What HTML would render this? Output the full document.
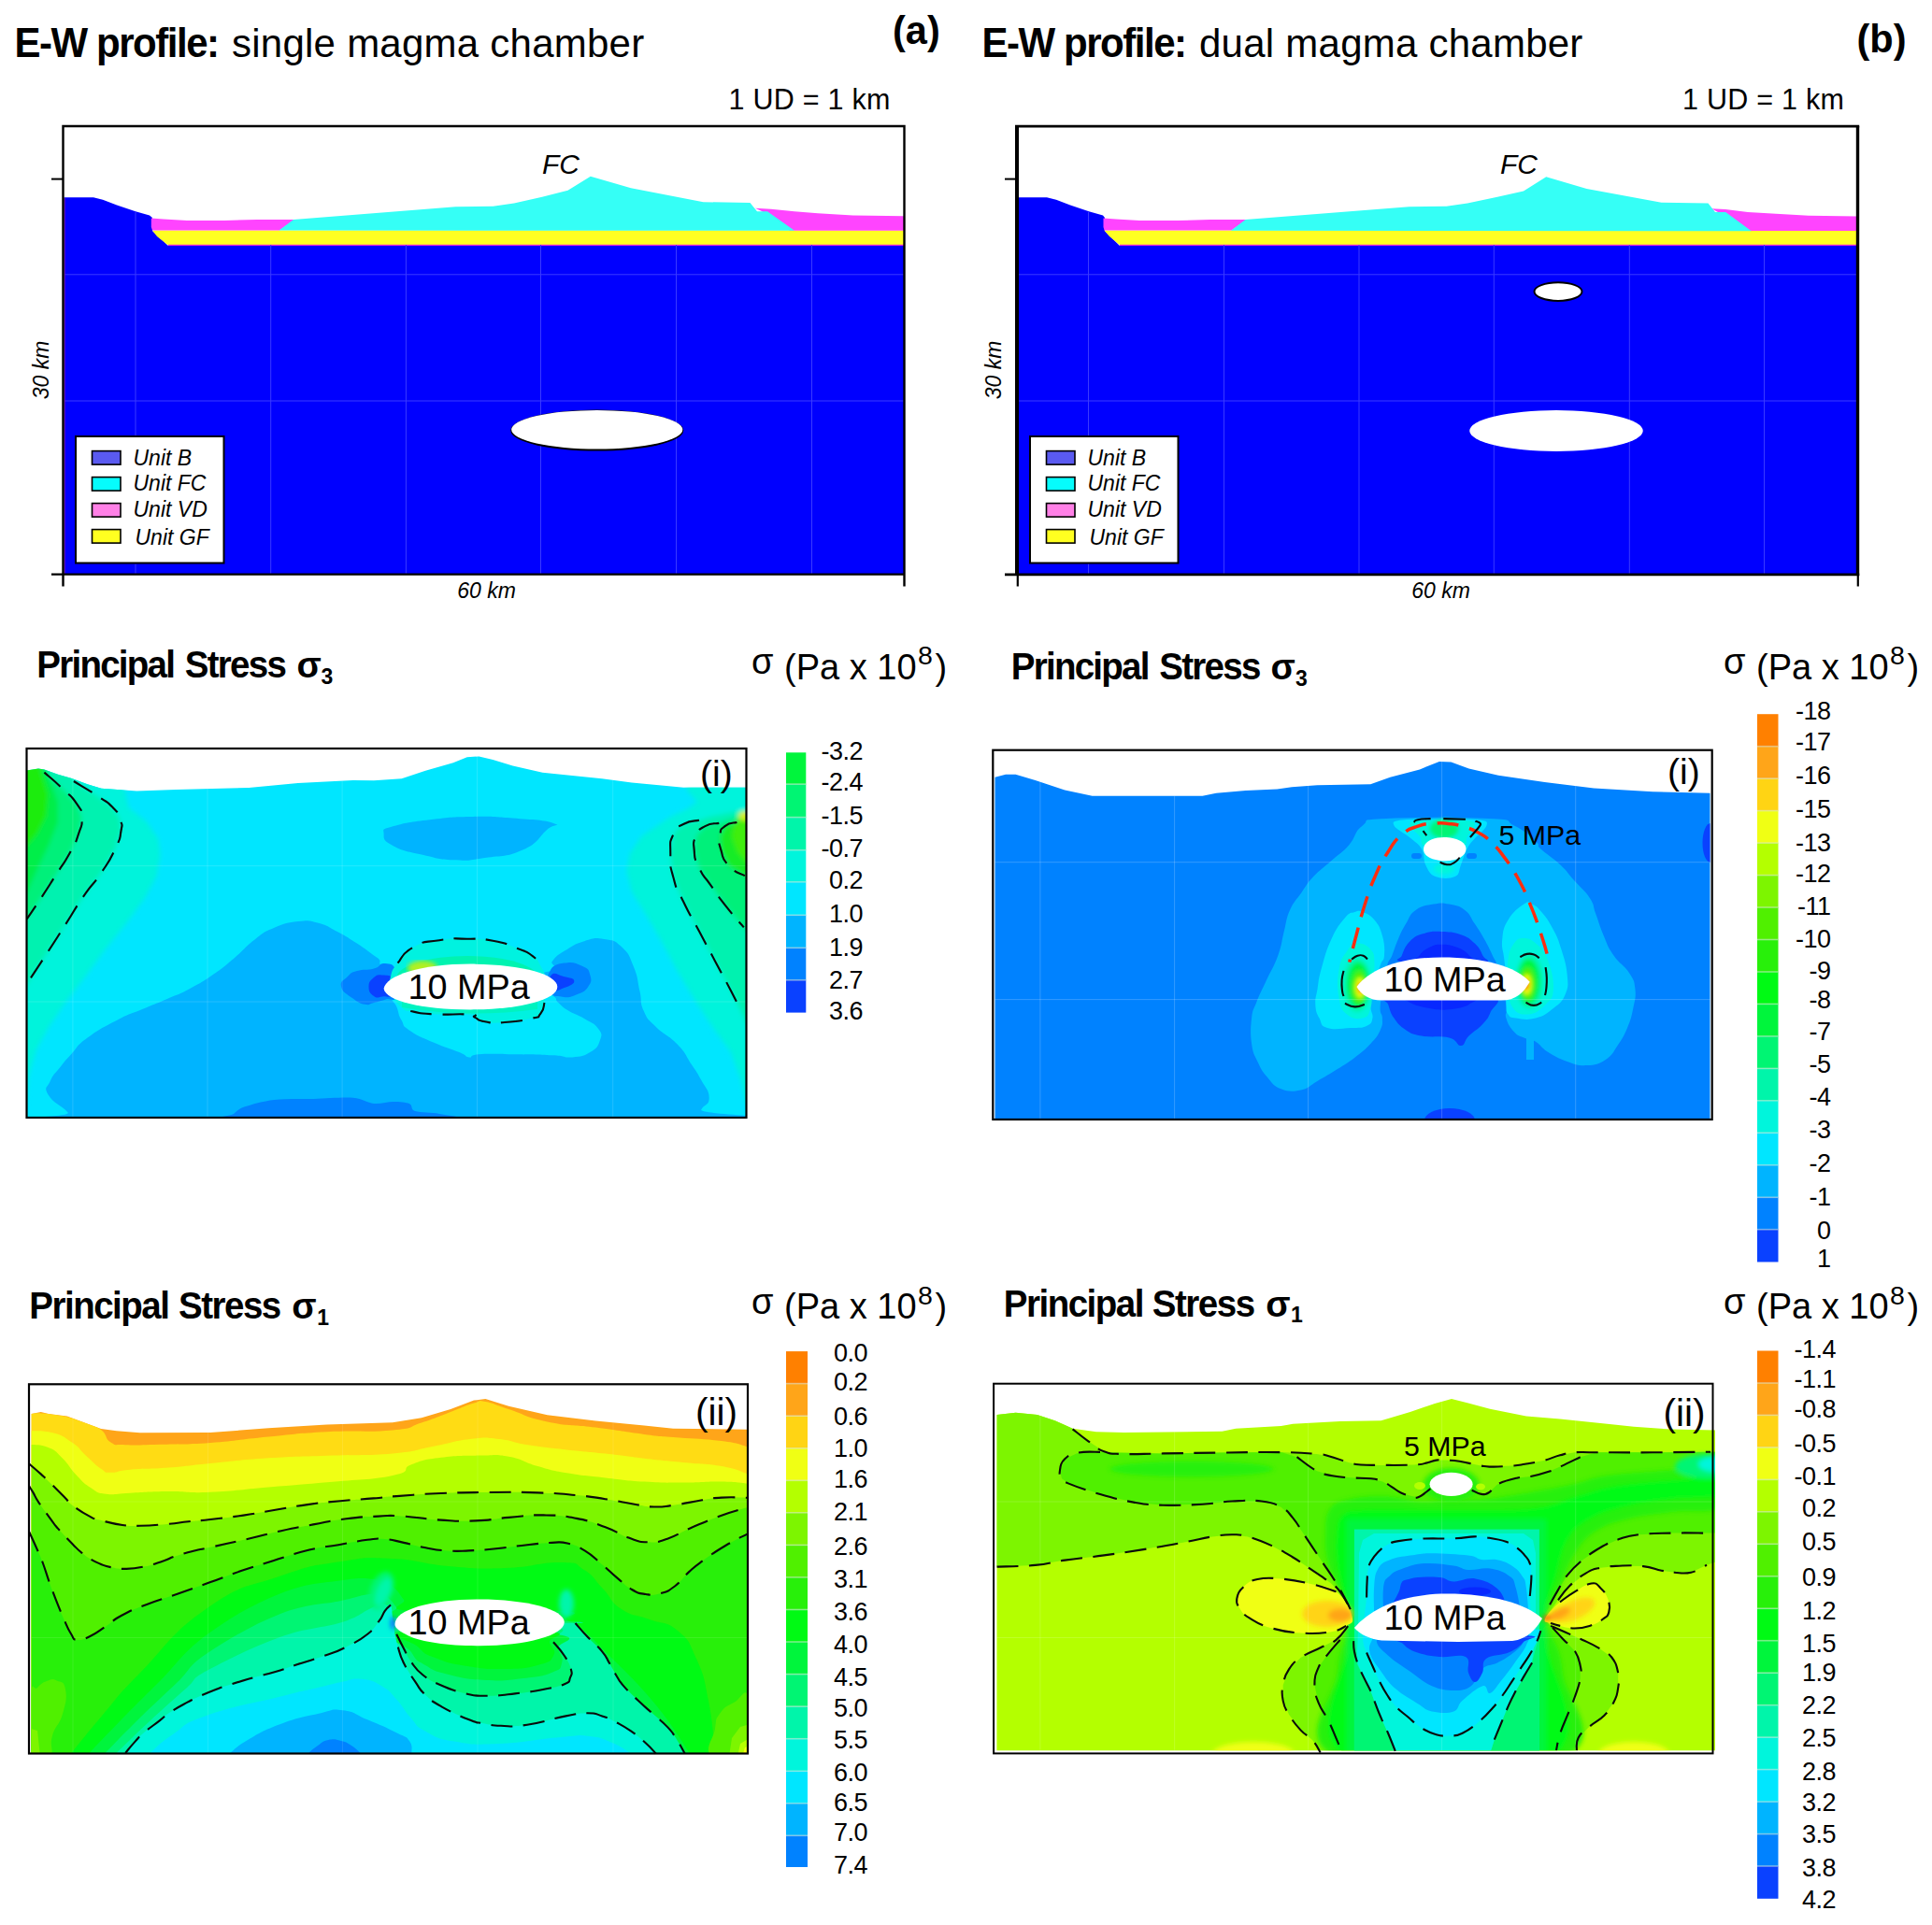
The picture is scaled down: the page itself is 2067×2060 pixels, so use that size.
<!DOCTYPE html>
<html><head><meta charset="utf-8"><title>Figure</title>
<style>html,body{margin:0;padding:0;background:#fff;}body{width:2067px;height:2060px;overflow:hidden;font-family:"Liberation Sans",sans-serif;}svg text{font-family:"Liberation Sans",sans-serif;}</style></head>
<body>
<svg width="2067" height="2060" viewBox="0 0 2067 2060" font-family="Liberation Sans, sans-serif" fill="#000" style="display:block">
<rect width="2067" height="2060" fill="#fff"/>
<text transform="translate(15.5,61) scale(1,1.04)" font-size="42" font-weight="bold" letter-spacing="-1.45">E-W profile:</text>
<text transform="translate(248,61) scale(1,1.03)" font-size="42" letter-spacing="0.25">single magma chamber</text>
<text transform="translate(955,47.2) scale(1,1.03)" font-size="41.5" font-weight="bold">(a)</text>
<text transform="translate(1050.5,61) scale(1,1.04)" font-size="42" font-weight="bold" letter-spacing="-1.45">E-W profile:</text>
<text transform="translate(1283,61) scale(1,1.03)" font-size="42" letter-spacing="0.25">dual magma chamber</text>
<text transform="translate(1986.5,56.3) scale(1,1.03)" font-size="41.5" font-weight="bold">(b)</text>
<text x="779.5" y="117" font-size="30.5" letter-spacing="0.25">1 UD = 1 km</text>
<text x="1800" y="117.2" font-size="30.5" letter-spacing="0.25">1 UD = 1 km</text>
<polygon points="68.5,614.5 68.5,211.3 100.0,211.3 110.0,213.8 125.0,219.5 145.0,226.2 160.0,230.5 163.0,233.0 163.0,247.0 180.0,263.0 967.0,263.0 967.0,614.5" fill="#0000ff"/>
<rect x="180" y="260.5" width="787" height="2.6" fill="#e020e0"/>
<polygon points="163.0,246.4 967.0,246.4 967.0,261.8 179.0,261.8 168.0,253.0" fill="#ffff22"/>
<polygon points="161.8,233.6 175.0,234.5 200.0,236.0 240.0,236.0 275.0,235.0 316.0,235.0 299.0,246.6 163.0,246.6 161.8,243.0" fill="#ff44ff"/>
<polygon points="808.0,222.8 825.0,223.7 850.0,226.2 875.0,228.2 912.5,230.5 967.0,231.3 967.0,246.8 845.0,246.8 815.0,226.0" fill="#ff44ff"/>
<polygon points="298.5,246.6 314.0,235.0 487.5,221.2 527.5,220.8 550.0,217.5 580.0,210.8 607.5,203.8 631.8,188.8 675.0,201.2 752.5,216.2 802.5,217.0 810.0,226.2 821.0,226.2 850.0,246.8" fill="#35fff6"/>
<rect x="144.5" y="227" width="1" height="387" fill="#3a3aff"/>
<rect x="289.2" y="262" width="1" height="352" fill="#3a3aff"/>
<rect x="433.9" y="262" width="1" height="352" fill="#3a3aff"/>
<rect x="578.0" y="262" width="1" height="352" fill="#3a3aff"/>
<rect x="723.0" y="262" width="1" height="352" fill="#3a3aff"/>
<rect x="868.0" y="262" width="1" height="352" fill="#3a3aff"/>
<rect x="69" y="293.3" width="898" height="1" fill="#3a3aff"/>
<rect x="69" y="428.5" width="898" height="1" fill="#3a3aff"/>
<rect x="68.7" y="212" width="1" height="402" fill="#9000a0" opacity="0.8"/>
<ellipse cx="638.75" cy="460.6" rx="92.5" ry="22" fill="#000"/>
<ellipse cx="638.75" cy="459.8" rx="91.6" ry="20.8" fill="#fff"/>
<path d="M67.5,627.5 V135 H967.5 V627.5" fill="none" stroke="#000" stroke-width="2.4"/>
<path d="M55,614.6 H967.5" fill="none" stroke="#000" stroke-width="2.4"/>
<path d="M55,191.6 H67.5" fill="none" stroke="#000" stroke-width="2"/>
<rect x="81" y="467" width="158.5" height="135.5" fill="#fff" stroke="#000" stroke-width="2"/>
<rect x="98.5" y="482.6" width="30.5" height="14.5" fill="#5a5af0" stroke="#000" stroke-width="1.6"/>
<text x="142.5" y="497.5" font-size="23" font-style="italic">Unit B</text>
<rect x="98.5" y="510.6" width="30.5" height="14.5" fill="#06fcfc" stroke="#000" stroke-width="1.6"/>
<text x="142.5" y="525" font-size="23" font-style="italic">Unit FC</text>
<rect x="98.5" y="538.6" width="30.5" height="14.5" fill="#ff80e6" stroke="#000" stroke-width="1.6"/>
<text x="142.5" y="552.5" font-size="23" font-style="italic">Unit VD</text>
<rect x="98.5" y="566.6" width="30.5" height="14.5" fill="#ffff20" stroke="#000" stroke-width="1.6"/>
<text x="144.5" y="582.5" font-size="23" font-style="italic">Unit GF</text>
<text transform="translate(51.5,396) rotate(-90)" text-anchor="middle" font-size="23" font-style="italic">30 km</text>
<text x="520.5" y="640" text-anchor="middle" font-size="23" font-style="italic">60 km</text>
<text x="580" y="185.5" font-size="30" font-style="italic">FC</text>
<polygon points="1089.0,614.5 1089.0,211.3 1120.0,211.3 1130.0,213.8 1145.0,219.5 1165.0,226.2 1180.0,230.5 1182.0,233.0 1182.0,247.0 1198.0,263.0 1987.0,263.0 1987.0,614.5" fill="#0000ff"/>
<rect x="1198" y="260.5" width="789" height="2.6" fill="#e020e0"/>
<polygon points="1181.3,246.4 1987.0,246.4 1987.0,261.8 1197.5,261.8 1187.0,253.0" fill="#ffff22"/>
<polygon points="1180.5,233.6 1194.0,234.5 1219.0,236.0 1260.0,236.0 1295.0,235.0 1334.0,235.0 1317.5,246.6 1181.5,246.6 1180.5,243.0" fill="#ff44ff"/>
<polygon points="1831.0,223.3 1846.0,224.0 1870.0,227.0 1900.0,228.8 1935.0,230.8 1987.0,231.5 1987.0,247.0 1868.0,247.0 1838.0,227.0" fill="#ff44ff"/>
<polygon points="1317.0,246.8 1332.5,235.0 1507.5,221.2 1547.5,220.8 1570.0,217.5 1602.0,210.8 1630.0,204.5 1654.2,189.3 1697.5,202.0 1777.5,216.8 1827.5,217.5 1835.0,227.0 1846.2,227.0 1873.8,247.2" fill="#35fff6"/>
<rect x="1164.0" y="227" width="1" height="387" fill="#3a3aff"/>
<rect x="1309.0" y="262" width="1" height="352" fill="#3a3aff"/>
<rect x="1453.5" y="262" width="1" height="352" fill="#3a3aff"/>
<rect x="1597.8" y="262" width="1" height="352" fill="#3a3aff"/>
<rect x="1742.8" y="262" width="1" height="352" fill="#3a3aff"/>
<rect x="1887.0" y="262" width="1" height="352" fill="#3a3aff"/>
<rect x="1090" y="293.3" width="897" height="1" fill="#3a3aff"/>
<rect x="1090" y="428.5" width="897" height="1" fill="#3a3aff"/>
<ellipse cx="1665" cy="461" rx="92.75" ry="22" fill="#fff"/>
<ellipse cx="1667" cy="312.1" rx="25.5" ry="9.8" fill="#fff" stroke="#000" stroke-width="2"/>
<path d="M1088,616 V135" fill="none" stroke="#000" stroke-width="4"/><path d="M1088.8,627.5 V614" fill="none" stroke="#000" stroke-width="2.2"/>
<path d="M1987.5,616 V135" fill="none" stroke="#000" stroke-width="3.4"/><path d="M1987.8,627.5 V614" fill="none" stroke="#000" stroke-width="2.2"/>
<path d="M1086,135.2 H1989.2" fill="none" stroke="#000" stroke-width="2.8"/>
<path d="M1075,614.8 H1989.2" fill="none" stroke="#000" stroke-width="2.8"/>
<path d="M1075,191.6 H1088" fill="none" stroke="#000" stroke-width="2"/>
<rect x="1102" y="467" width="158.5" height="135.5" fill="#fff" stroke="#000" stroke-width="2"/>
<rect x="1119.5" y="482.6" width="30.5" height="14.5" fill="#5a5af0" stroke="#000" stroke-width="1.6"/>
<text x="1163.5" y="497.5" font-size="23" font-style="italic">Unit B</text>
<rect x="1119.5" y="510.6" width="30.5" height="14.5" fill="#06fcfc" stroke="#000" stroke-width="1.6"/>
<text x="1163.5" y="525" font-size="23" font-style="italic">Unit FC</text>
<rect x="1119.5" y="538.6" width="30.5" height="14.5" fill="#ff80e6" stroke="#000" stroke-width="1.6"/>
<text x="1163.5" y="552.5" font-size="23" font-style="italic">Unit VD</text>
<rect x="1119.5" y="566.6" width="30.5" height="14.5" fill="#ffff20" stroke="#000" stroke-width="1.6"/>
<text x="1165.5" y="582.5" font-size="23" font-style="italic">Unit GF</text>
<text transform="translate(1071,396) rotate(-90)" text-anchor="middle" font-size="23" font-style="italic">30 km</text>
<text x="1541.5" y="640" text-anchor="middle" font-size="23" font-style="italic">60 km</text>
<text x="1605" y="185.5" font-size="30" font-style="italic">FC</text>
<defs><clipPath id="clipAI"><polygon points="28.5,824.5 41.0,822.4 47.4,823.4 62.0,828.7 76.8,832.9 93.6,839.2 108.4,843.8 146.3,846.5 188.3,845.1 266.2,843.0 318.8,838.1 377.7,835.0 400.0,835.3 429.7,833.2 455.2,824.7 484.9,816.2 499.7,810.3 512.5,809.4 527.3,813.0 548.6,819.4 580.4,826.8 612.2,830.0 644.0,833.2 675.9,837.4 707.7,840.6 731.1,842.8 798.5,842.8 798.5,1196.0 28.5,1196.0"/></clipPath><filter id="blAI" x="-5%" y="-5%" width="110%" height="110%"><feGaussianBlur stdDeviation="2.6"/></filter></defs>
<g clip-path="url(#clipAI)">
<rect x="28.5" y="801" width="770.0" height="395" fill="#00e6ff"/>
<path d="M76.8,1200.0C-102.7,1197.5 79.3,1198.2 72.6,1190.6C65.9,1183.0 56.6,1180.6 51.6,1171.6C46.6,1162.6 50.3,1164.7 53.7,1156.9C57.1,1149.1 58.0,1150.0 64.2,1142.2C70.4,1134.4 69.0,1135.9 76.8,1127.5C84.6,1119.1 80.7,1120.1 93.6,1110.6C106.5,1101.1 108.9,1100.1 125.2,1091.7C141.5,1083.3 140.1,1085.3 154.7,1079.1C169.3,1072.9 167.0,1074.1 179.9,1068.5C192.8,1062.9 189.6,1065.3 203.1,1058.0C216.6,1050.7 217.5,1050.2 230.4,1041.2C243.3,1032.2 240.3,1033.9 251.5,1024.4C262.7,1014.9 261.3,1013.8 272.5,1005.4C283.7,997.0 281.2,997.9 293.5,992.8C305.8,987.7 306.5,987.5 318.8,986.1C331.1,984.7 328.6,984.6 339.8,987.5C351.0,990.4 349.7,991.1 360.9,997.0C372.1,1002.9 370.7,1002.3 381.9,1009.6C393.1,1016.9 392.6,1017.4 403.0,1024.4C413.4,1031.4 395.1,1030.5 421.0,1036.0C446.9,1041.5 456.3,1043.9 500.0,1045.0C543.7,1046.1 560.7,1044.4 585.0,1040.0C609.3,1035.6 586.0,1034.3 591.0,1028.4C596.0,1022.5 594.6,1023.5 603.7,1017.8C612.8,1012.1 613.7,1010.6 625.0,1007.2C636.3,1003.8 635.5,1003.4 646.2,1005.1C656.9,1006.8 656.8,1005.7 665.3,1013.6C673.8,1021.5 672.9,1022.3 678.0,1034.8C683.1,1047.3 681.6,1047.8 684.4,1060.3C687.2,1072.8 684.1,1071.3 688.6,1081.5C693.1,1091.7 691.8,1088.9 701.4,1098.5C711.0,1108.1 714.5,1106.9 724.7,1117.6C734.9,1128.3 732.8,1128.6 739.6,1138.8C746.4,1149.0 745.1,1146.2 750.2,1155.8C755.3,1165.4 758.7,1166.4 758.7,1174.9C758.7,1183.4 753.6,1180.9 750.2,1187.6C746.8,1194.3 925.5,1196.7 745.9,1200.0C566.3,1203.3 256.3,1202.5 76.8,1200.0Z" fill="#00b4ff"/>
<path d="M421.0,1062.0C414.3,1069.7 422.7,1071.0 425.0,1079.0C427.3,1087.0 426.2,1085.8 429.7,1092.1C433.2,1098.4 429.1,1096.5 438.2,1102.7C447.3,1108.9 449.5,1109.3 463.7,1115.5C477.9,1121.7 481.1,1121.9 491.3,1126.1C501.5,1130.3 496.4,1130.8 501.9,1131.4C507.4,1132.0 499.5,1129.1 512.0,1128.2C524.5,1127.3 527.5,1127.9 548.6,1128.2C569.7,1128.5 574.0,1128.4 591.0,1129.3C608.0,1130.2 601.5,1132.3 612.2,1131.4C622.9,1130.5 623.4,1130.9 631.3,1126.1C639.2,1121.3 639.6,1120.1 641.9,1113.3C644.2,1106.5 644.3,1106.8 639.8,1100.6C635.3,1094.4 633.5,1095.1 625.0,1090.0C616.5,1084.9 615.4,1086.0 608.0,1081.5C600.6,1077.0 602.5,1077.7 597.4,1073.0C592.3,1068.3 599.0,1070.1 589.0,1064.0C579.0,1057.9 597.1,1053.7 560.0,1050.0C522.9,1046.3 487.1,1046.8 450.0,1050.0C412.9,1053.2 427.7,1054.3 421.0,1062.0Z" fill="#00e6ff"/>
<path d="M410.6,892.6C410.6,886.9 407.0,888.3 421.2,884.1C435.4,879.9 441.1,879.4 463.7,876.7C486.3,874.0 483.5,874.2 506.1,873.9C528.7,873.6 525.7,873.7 548.6,875.6C571.5,877.5 582.5,877.5 592.1,880.9C601.7,884.3 593.4,880.7 584.6,888.4C575.8,896.1 576.7,901.7 559.2,909.6C541.7,917.5 538.6,915.3 518.8,918.1C499.0,920.9 502.4,921.1 484.9,920.2C467.4,919.3 470.1,918.8 453.1,914.9C436.1,911.0 432.5,911.3 421.2,905.4C409.9,899.5 410.6,898.3 410.6,892.6Z" fill="#00b4ff"/>
<path d="M243.0,1200.0C203.2,1198.7 246.8,1194.6 250.0,1192.0C253.2,1189.4 254.8,1186.8 262.0,1184.3C269.2,1181.8 281.2,1178.3 293.5,1176.9C305.8,1175.5 321.6,1176.2 335.6,1175.9C349.6,1175.6 367.0,1174.0 377.7,1174.8C388.4,1175.6 392.8,1180.3 400.0,1181.0C407.2,1181.7 414.8,1179.0 421.2,1179.1C427.6,1179.1 434.4,1179.6 438.2,1181.3C442.0,1183.0 438.7,1187.2 444.0,1189.0C449.3,1190.8 462.5,1190.1 470.0,1191.9C477.5,1193.7 526.9,1198.7 489.1,1200.0C451.3,1201.3 282.9,1201.3 243.0,1200.0Z" fill="#0082ff"/>
<path d="M365.1,1055.9C363.6,1049.6 367.5,1049.5 372.0,1045.0C376.5,1040.5 374.4,1041.4 381.9,1039.1C389.4,1036.8 392.0,1038.7 400.0,1036.5C408.0,1034.3 405.6,1030.1 412.0,1031.0C418.4,1031.9 420.8,1030.7 424.0,1040.0C427.2,1049.3 427.0,1058.1 424.0,1066.0C421.0,1073.9 419.1,1067.6 412.7,1069.5C406.3,1071.4 406.0,1071.6 400.0,1073.0C394.0,1074.4 396.2,1076.0 390.3,1074.8C384.4,1073.6 384.4,1073.5 377.7,1068.5C371.0,1063.5 366.6,1062.2 365.1,1055.9Z" fill="#0082ff"/>
<path d="M394.5,1055.9C394.5,1050.6 396.1,1049.3 400.0,1046.0C403.9,1042.7 404.0,1043.0 409.3,1043.5C414.6,1044.0 417.1,1042.5 420.0,1048.0C422.9,1053.5 422.9,1059.1 420.0,1064.0C417.1,1068.9 414.6,1065.9 409.3,1066.4C404.0,1066.9 403.9,1068.8 400.0,1066.0C396.1,1063.2 394.5,1061.2 394.5,1055.9Z" fill="#0a41ff"/>
<path d="M588.0,1040.0C592.2,1032.1 594.4,1032.3 603.7,1030.6C613.0,1028.9 615.4,1030.4 622.8,1033.8C630.2,1037.2 629.6,1037.4 631.3,1043.3C633.0,1049.2 633.1,1050.3 629.2,1056.0C625.3,1061.7 623.9,1061.6 616.5,1064.5C609.1,1067.4 609.2,1067.8 601.6,1066.7C594.0,1065.6 591.6,1067.4 588.0,1060.3C584.4,1053.2 583.8,1047.9 588.0,1040.0Z" fill="#0082ff"/>
<path d="M590.0,1043.3C593.5,1039.6 596.5,1043.3 603.0,1045.0C609.5,1046.7 614.1,1046.5 614.3,1049.7C614.5,1052.9 610.2,1054.6 603.7,1057.1C597.2,1059.6 593.7,1062.7 590.0,1059.0C586.3,1055.3 586.5,1047.0 590.0,1043.3Z" fill="#0a41ff"/>
<g filter="url(#blAI)">
<polygon points="10.0,800.0 133.6,800.0 133.6,846.5 137.8,864.4 156.8,879.2 169.4,898.1 171.5,915.0 167.3,938.1 154.7,961.2 137.8,984.4 112.6,1016.0 89.4,1047.5 68.4,1074.9 51.6,1100.0 38.9,1123.2 30.5,1152.7 27.0,1185.0 10.0,1185.0" fill="#00f3dc"/>
<polygon points="10.0,800.0 78.9,800.0 78.9,836.0 104.2,851.8 121.0,864.4 128.4,877.1 129.4,889.7 123.1,908.6 108.4,933.9 89.4,959.1 70.5,988.6 51.6,1018.0 29.5,1051.7 10.0,1075.0" fill="#00f2b0"/>
<polygon points="10.0,800.0 47.4,800.0 47.4,826.6 66.3,843.4 82.1,860.2 87.3,875.0 84.2,891.8 74.7,912.8 60.0,936.0 45.2,959.1 28.8,983.3 10.0,1005.0" fill="#00f07a"/>
<polygon points="10.0,800.0 45.0,800.0 50.0,826.0 62.0,858.0 62.0,880.0 52.0,905.0 40.0,930.0 28.8,955.0 10.0,975.0" fill="#00ee48"/>
<polygon points="10.0,800.0 42.0,800.0 44.0,826.0 51.6,849.7 49.5,872.9 40.0,892.0 28.8,905.0 10.0,915.0" fill="#1cec10"/>
</g>
<g filter="url(#blAI)">
<polygon points="820.0,800.0 733.0,800.0 735.3,845.9 746.0,858.0 735.0,866.0 718.3,873.5 686.5,894.7 673.8,913.8 670.6,932.9 675.9,954.2 692.9,981.8 707.7,1007.2 724.7,1039.1 743.8,1070.9 765.0,1102.7 782.0,1126.1 792.6,1155.8 797.9,1180.0 820.0,1200.0" fill="#00f3dc"/>
<polygon points="820.0,868.0 790.0,868.0 760.0,874.0 748.0,877.8 731.1,882.0 720.5,892.6 717.3,913.8 720.5,939.3 731.1,964.8 748.0,996.6 765.0,1028.4 782.0,1060.3 792.6,1081.5 800.0,1098.0 820.0,1110.0" fill="#00f2b0"/>
<polygon points="820.0,872.0 790.0,874.0 769.3,880.9 754.4,884.1 744.9,894.7 742.7,909.6 748.0,928.7 760.8,947.8 777.8,971.1 795.8,992.4 820.0,1015.0" fill="#00f07a"/>
<polygon points="820.0,870.0 795.0,874.0 788.4,879.9 775.6,884.1 770.3,894.7 771.4,909.6 779.9,926.6 796.9,937.2 820.0,945.0" fill="#14ec28"/>
<polygon points="820.0,866.0 797.0,869.0 786.0,880.0 783.0,895.0 789.0,912.0 800.0,924.0 820.0,930.0" fill="#40ee08"/>
<ellipse cx="797" cy="873" rx="7" ry="5" fill="#d8f020"/>
</g>
<path d="M425.5,1030.6C432.0,1022.2 430.5,1020.1 442.4,1013.6C454.3,1007.1 454.7,1008.6 470.0,1006.2C485.3,1003.8 484.4,1004.5 499.7,1004.7C515.0,1004.9 513.1,1004.1 527.3,1006.8C541.5,1009.5 541.5,1010.4 552.8,1014.7C564.1,1019.0 563.1,1018.2 569.8,1023.1C576.5,1028.0 574.2,1025.8 578.0,1033.0C581.8,1040.2 582.8,1039.3 584.0,1050.0C585.2,1060.7 584.0,1063.7 582.5,1073.0C581.0,1082.3 582.2,1080.2 578.3,1084.7C574.4,1089.2 578.5,1087.5 567.7,1090.0C556.9,1092.5 550.9,1093.3 537.9,1094.2C524.9,1095.1 526.7,1094.6 518.8,1093.2C510.9,1091.8 512.7,1090.9 508.2,1088.9C503.7,1086.9 513.8,1086.7 501.9,1085.7C490.0,1084.7 479.6,1086.1 463.7,1085.3C447.8,1084.5 451.5,1084.5 442.4,1082.6C433.3,1080.7 436.2,1084.3 429.7,1078.3C423.2,1072.3 421.1,1068.9 418.0,1060.0C414.9,1051.1 416.0,1052.8 418.0,1045.0C420.0,1037.2 419.0,1039.0 425.5,1030.6Z" fill="#00f2e0"/>
<ellipse cx="500" cy="1047" rx="76" ry="24" fill="#00f3b0"/>
<ellipse cx="452" cy="1036" rx="16" ry="8" fill="#b0f020" filter="url(#blAI)"/>
<path d="M430,1078 Q500,1090 575,1080 L575,1070 L430,1070Z" fill="#00f3c0"/>
<rect x="77.4" y="801" width="1" height="395" fill="#fff" opacity="0.14"/>
<rect x="221.5" y="801" width="1" height="395" fill="#fff" opacity="0.14"/>
<rect x="365.6" y="801" width="1" height="395" fill="#fff" opacity="0.14"/>
<rect x="510.0" y="801" width="1" height="395" fill="#fff" opacity="0.14"/>
<rect x="655.2" y="801" width="1" height="395" fill="#fff" opacity="0.14"/>
<rect x="28.5" y="926.1" width="770.0" height="1" fill="#fff" opacity="0.14"/>
<rect x="28.5" y="1071.5" width="770.0" height="1" fill="#fff" opacity="0.14"/>
</g>
<path d="M410.6,1058 C413,1044 450,1031.6 503.5,1031.6 C556,1031.6 596.3,1042 596.3,1056 C596.3,1070 556,1080.4 503.5,1080.4 C450,1080.4 413,1071 410.6,1058Z" fill="#fff"/>
<path d="M78.9,836.0C87.3,841.3 90.2,842.3 104.2,851.8C118.2,861.3 112.9,856.0 121.0,864.4C129.1,872.8 125.6,868.7 128.4,877.1C131.2,885.5 131.2,879.2 129.4,889.7C127.6,900.2 130.1,893.9 123.1,908.6C116.1,923.3 119.6,917.1 108.4,933.9C97.2,950.7 102.0,940.9 89.4,959.1C76.8,977.3 83.1,969.0 70.5,988.6C57.9,1008.2 65.3,997.0 51.6,1018.0C37.9,1039.0 36.9,1040.5 29.5,1051.7" fill="none" stroke="#0a0a0a" stroke-width="2.1" stroke-dasharray="23 11.5" stroke-dashoffset="0"/>
<path d="M47.4,826.6C53.7,832.2 54.7,832.2 66.3,843.4C77.9,854.6 75.1,849.7 82.1,860.2C89.1,870.7 86.6,864.5 87.3,875.0C88.0,885.5 88.4,879.2 84.2,891.8C80.0,904.4 82.8,898.1 74.7,912.8C66.6,927.5 69.8,920.6 60.0,936.0C50.2,951.4 55.6,943.3 45.2,959.1C34.8,974.9 34.3,975.2 28.8,983.3" fill="none" stroke="#0a0a0a" stroke-width="2.1" stroke-dasharray="23 11.5" stroke-dashoffset="0"/>
<path d="M748.0,877.8C742.4,879.2 740.3,877.1 731.1,882.0C721.9,886.9 725.1,882.0 720.5,892.6C715.9,903.2 717.3,898.2 717.3,913.8C717.3,929.4 715.9,922.3 720.5,939.3C725.1,956.3 721.9,945.7 731.1,964.8C740.3,983.9 736.7,975.4 748.0,996.6C759.3,1017.8 753.7,1007.2 765.0,1028.4C776.3,1049.6 772.8,1042.6 782.0,1060.3C791.2,1078.0 789.1,1074.4 792.6,1081.5" fill="none" stroke="#0a0a0a" stroke-width="2.1" stroke-dasharray="23 11.5" stroke-dashoffset="0"/>
<path d="M769.3,880.9C764.3,882.0 762.5,879.5 754.4,884.1C746.3,888.7 748.8,886.2 744.9,894.7C741.0,903.2 741.7,898.3 742.7,909.6C743.7,920.9 742.0,916.0 748.0,928.7C754.0,941.4 750.9,933.7 760.8,947.8C770.7,961.9 766.1,956.2 777.8,971.1C789.5,986.0 789.8,985.3 795.8,992.4" fill="none" stroke="#0a0a0a" stroke-width="2.1" stroke-dasharray="23 11.5" stroke-dashoffset="0"/>
<path d="M788.4,879.9C784.1,881.3 781.6,879.2 775.6,884.1C769.6,889.0 771.7,886.2 770.3,894.7C768.9,903.2 768.2,899.0 771.4,909.6C774.6,920.2 771.4,917.4 779.9,926.6C788.4,935.8 791.2,933.7 796.9,937.2" fill="none" stroke="#0a0a0a" stroke-width="2.1" stroke-dasharray="23 11.5" stroke-dashoffset="0"/>
<path d="M425.5,1030.6C431.1,1024.9 427.6,1021.7 442.4,1013.6C457.2,1005.5 450.9,1009.2 470.0,1006.2C489.1,1003.2 480.6,1004.5 499.7,1004.7C518.8,1004.9 509.6,1003.5 527.3,1006.8C545.0,1010.1 538.6,1009.3 552.8,1014.7C567.0,1020.1 562.0,1017.5 569.8,1023.1C577.6,1028.7 574.0,1028.8 576.1,1031.6" fill="none" stroke="#0a0a0a" stroke-width="2.1" stroke-dasharray="23 11.5" stroke-dashoffset="0"/>
<path d="M582.5,1073.0C581.1,1076.9 583.2,1079.0 578.3,1084.7C573.4,1090.4 581.2,1086.8 567.7,1090.0C554.2,1093.2 554.2,1093.1 537.9,1094.2C521.6,1095.3 528.7,1095.0 518.8,1093.2C508.9,1091.4 513.8,1091.4 508.2,1088.9C502.6,1086.4 516.7,1086.9 501.9,1085.7C487.1,1084.5 483.5,1086.3 463.7,1085.3C443.9,1084.3 453.7,1084.9 442.4,1082.6C431.1,1080.3 433.9,1079.7 429.7,1078.3" fill="none" stroke="#0a0a0a" stroke-width="2.1" stroke-dasharray="23 11.5" stroke-dashoffset="0"/>
<rect x="28.5" y="801" width="770.0" height="395" fill="none" stroke="#000" stroke-width="2.2"/>
<text x="436.5" y="1068.8" font-size="37.8">10 MPa</text>
<text x="749" y="840.6" font-size="39">(i)</text>
<defs><clipPath id="clipAII"><polygon points="33.7,1513.0 43.7,1510.9 52.0,1513.0 71.8,1515.6 87.3,1521.3 108.1,1529.1 124.7,1531.2 149.7,1533.2 225.0,1533.0 287.3,1528.3 349.7,1524.4 420.0,1522.2 451.0,1517.3 482.1,1508.0 507.0,1498.6 519.4,1497.0 544.2,1504.8 585.6,1514.2 637.4,1520.4 689.2,1525.5 720.2,1528.7 799.0,1529.7 799.0,1876.5 33.7,1876.5"/></clipPath><filter id="blAII" x="-5%" y="-5%" width="110%" height="110%"><feGaussianBlur stdDeviation="2.5"/></filter></defs>
<g clip-path="url(#clipAII)">
<rect x="31" y="1481.3" width="769" height="395.20000000000005" fill="#ffa519"/>
<path d="M30.0,1512.0C38.0,1512.5 44.0,1511.3 60.0,1514.0C76.0,1516.7 77.2,1517.7 90.0,1522.0C102.8,1526.3 100.4,1524.2 108.0,1530.0C115.6,1535.8 111.5,1539.3 118.5,1543.6C125.5,1547.9 120.2,1545.6 134.1,1546.2C148.0,1546.8 146.3,1546.3 170.5,1545.7C194.7,1545.1 193.9,1546.1 225.0,1543.9C256.1,1541.7 254.0,1540.5 287.3,1537.4C320.6,1534.3 314.3,1534.0 349.7,1532.2C385.1,1530.4 393.0,1533.1 420.0,1530.5C447.0,1527.9 434.5,1527.6 451.0,1522.4C467.5,1517.2 467.1,1516.6 482.0,1511.0C496.9,1505.4 497.0,1504.4 507.0,1501.5C517.0,1498.6 509.5,1498.3 519.4,1500.0C529.3,1501.7 526.5,1502.3 544.2,1508.0C561.9,1513.7 560.7,1516.2 585.6,1521.4C610.5,1526.6 609.8,1524.0 637.4,1527.6C665.0,1531.2 667.1,1532.1 689.2,1534.9C711.3,1537.7 698.1,1536.1 720.2,1538.0C742.3,1539.9 750.7,1539.4 772.0,1542.1C793.3,1544.8 792.5,1546.6 800.0,1548.3L800.0,1890 L30.0,1890Z" fill="#ffdc14"/>
<path d="M30.0,1531.2C37.0,1531.7 43.7,1529.9 56.2,1533.2C68.7,1536.5 67.3,1536.9 77.0,1543.6C86.7,1550.3 84.2,1550.7 92.5,1558.2C100.8,1565.7 101.2,1567.0 108.1,1571.7C115.0,1576.4 110.2,1575.5 118.5,1575.8C126.8,1576.1 122.7,1574.1 139.3,1572.7C155.9,1571.3 157.9,1572.4 180.8,1570.6C203.7,1568.8 196.6,1568.7 225.0,1566.0C253.4,1563.3 254.0,1562.5 287.3,1560.3C320.6,1558.1 314.3,1559.0 349.7,1557.7C385.1,1556.4 390.2,1557.9 420.0,1555.4C449.8,1552.9 439.3,1552.4 461.4,1548.3C483.5,1544.2 483.5,1542.2 502.8,1540.0C522.1,1537.8 517.3,1538.3 533.9,1540.0C550.5,1541.7 545.6,1543.3 564.9,1546.3C584.2,1549.3 584.2,1548.9 606.3,1551.4C628.4,1553.9 625.6,1553.1 647.7,1555.6C669.8,1558.1 667.1,1558.2 689.2,1560.7C711.3,1563.2 708.5,1562.7 730.6,1564.9C752.7,1567.1 753.5,1565.7 772.0,1569.0C790.5,1572.3 792.5,1575.1 800.0,1577.3L800.0,1890 L30.0,1890Z" fill="#f0ff14"/>
<path d="M30.0,1545.7C35.6,1546.5 41.2,1544.9 51.0,1548.8C60.8,1552.7 58.3,1552.2 66.6,1560.3C74.9,1568.4 73.8,1570.4 82.1,1579.0C90.4,1587.6 89.4,1587.2 97.7,1592.5C106.0,1597.8 102.2,1597.3 113.3,1598.7C124.4,1600.1 121.3,1598.4 139.3,1597.7C157.3,1597.0 157.9,1596.3 180.8,1596.1C203.7,1595.9 196.6,1598.1 225.0,1596.8C253.4,1595.5 254.0,1594.2 287.3,1591.4C320.6,1588.6 314.3,1589.5 349.7,1586.2C385.1,1582.9 395.7,1584.1 420.0,1579.0C444.3,1573.9 426.9,1572.1 440.7,1567.0C454.5,1561.9 452.5,1562.2 471.8,1559.7C491.1,1557.2 493.9,1557.9 513.2,1557.6C532.5,1557.3 527.6,1555.7 544.2,1558.7C560.8,1561.7 558.7,1564.3 575.3,1569.0C591.9,1573.7 587.0,1573.0 606.3,1576.3C625.6,1579.6 625.6,1578.9 647.7,1581.4C669.8,1583.9 667.1,1584.2 689.2,1585.6C711.3,1587.0 708.5,1586.6 730.6,1586.6C752.7,1586.6 753.5,1585.3 772.0,1585.6C790.5,1585.9 792.5,1587.1 800.0,1587.7L800.0,1890 L30.0,1890Z" fill="#b4ff00"/>
<path d="M30.0,1565.0C33.7,1568.3 37.6,1571.7 43.7,1577.4C49.8,1583.1 46.4,1579.7 53.0,1586.2C59.6,1592.7 61.9,1595.1 68.6,1601.8C75.3,1608.5 70.5,1605.5 78.0,1611.2C85.5,1616.9 88.4,1618.8 96.7,1623.1C105.0,1627.4 100.1,1624.9 109.2,1627.3C118.3,1629.7 120.2,1630.5 131.0,1632.0C141.8,1633.5 137.0,1633.1 149.7,1632.8C162.4,1632.5 165.0,1632.1 178.8,1630.9C192.6,1629.7 189.3,1629.6 201.6,1628.3C213.9,1627.0 209.3,1627.8 225.0,1626.0C240.7,1624.2 241.7,1624.3 260.3,1621.6C278.9,1618.9 276.3,1618.9 294.6,1615.8C312.9,1612.7 310.3,1612.7 328.9,1610.1C347.5,1607.5 345.4,1608.0 364.2,1606.2C383.0,1604.4 383.5,1604.8 399.5,1603.4C415.5,1602.0 404.8,1602.5 424.1,1601.1C443.4,1599.7 445.3,1599.1 471.8,1598.0C498.3,1596.9 495.9,1597.2 523.5,1597.0C551.1,1596.8 550.4,1596.6 575.3,1597.4C600.2,1598.2 597.4,1598.3 616.7,1600.1C636.0,1601.9 631.1,1601.6 647.7,1604.2C664.3,1606.8 665.0,1607.6 678.8,1609.8C692.6,1612.0 688.5,1612.2 699.5,1612.5C710.5,1612.8 706.4,1612.7 720.2,1610.8C734.0,1608.9 737.5,1607.5 751.3,1605.3C765.1,1603.1 758.7,1603.3 772.0,1602.6C785.3,1601.9 793.3,1602.7 801.0,1602.8L801.0,1890 L30.0,1890Z" fill="#7df500"/>
<path d="M30.0,1588.0C31.4,1590.4 32.3,1591.7 35.4,1597.1C38.5,1602.5 36.3,1600.2 41.6,1608.1C46.9,1616.0 49.6,1619.3 55.1,1626.8C60.6,1634.3 56.3,1629.2 62.4,1636.1C68.5,1643.0 71.4,1645.9 78.0,1652.7C84.6,1659.5 82.3,1657.4 87.3,1661.6C92.3,1665.8 91.4,1665.1 96.7,1668.3C102.0,1671.5 101.3,1671.2 107.1,1673.5C112.9,1675.8 111.3,1675.7 118.5,1677.1C125.7,1678.5 124.7,1679.0 134.1,1678.9C143.5,1678.8 143.0,1678.9 153.8,1676.6C164.6,1674.3 165.5,1673.4 174.6,1670.4C183.7,1667.4 179.2,1668.1 188.1,1665.2C197.0,1662.3 198.1,1662.0 207.9,1659.5C217.7,1657.0 209.3,1659.3 225.0,1655.8C240.7,1652.3 246.4,1651.2 266.6,1646.5C286.8,1641.8 282.5,1642.2 300.8,1638.2C319.1,1634.2 316.5,1634.9 335.1,1631.4C353.7,1627.9 351.9,1627.5 370.5,1625.2C389.1,1622.9 389.0,1623.3 404.7,1622.6C420.4,1621.9 411.4,1621.3 429.3,1622.4C447.2,1623.5 450.5,1625.3 471.8,1626.6C493.1,1627.9 489.7,1628.1 509.0,1627.4C528.3,1626.7 524.9,1625.5 544.2,1623.9C563.5,1622.3 562.2,1621.1 581.5,1621.4C600.8,1621.7 599.0,1621.5 616.7,1624.9C634.4,1628.3 632.8,1628.7 647.7,1634.2C662.6,1639.7 660.4,1641.3 672.6,1645.6C684.8,1649.9 682.3,1649.9 693.3,1650.2C704.3,1650.5 701.3,1651.0 714.0,1646.7C726.7,1642.4 725.4,1640.8 740.9,1634.2C756.4,1627.6 757.7,1627.0 772.0,1621.8C786.3,1616.6 787.0,1616.9 794.7,1614.6C802.4,1612.3 799.3,1613.4 801.0,1613.0L801.0,1890 L30.0,1890Z" fill="#50f000"/>
<path d="M30.0,1636.0C32.8,1642.4 36.4,1650.3 40.6,1660.0C44.8,1669.7 41.7,1661.3 45.8,1672.5C49.9,1683.7 49.9,1685.9 56.0,1702.0C62.1,1718.1 63.1,1720.5 68.5,1733.0C73.9,1745.5 72.5,1742.9 76.2,1748.7C79.9,1754.5 77.1,1754.3 82.5,1754.9C87.9,1755.5 88.1,1754.9 96.4,1751.0C104.7,1747.1 104.4,1746.2 113.5,1740.2C122.6,1734.2 119.0,1734.7 130.6,1728.5C142.2,1722.3 140.9,1723.1 157.0,1716.9C173.1,1710.7 173.3,1711.4 191.1,1705.2C208.9,1699.0 206.0,1700.0 223.8,1693.6C241.6,1687.2 239.7,1687.3 257.9,1681.1C276.1,1674.9 272.6,1676.3 292.1,1670.3C311.6,1664.3 312.4,1663.2 331.0,1658.6C349.6,1654.0 345.5,1656.1 362.0,1653.2C378.5,1650.3 379.7,1649.5 393.0,1647.8C406.3,1646.1 401.4,1646.2 411.8,1647.0C422.2,1647.8 420.4,1648.4 432.0,1650.9C443.6,1653.4 442.9,1654.0 455.3,1656.3C467.7,1658.6 466.2,1658.6 478.6,1659.4C491.0,1660.2 487.4,1660.0 501.9,1659.4C516.4,1658.8 516.4,1658.7 533.0,1657.0C549.6,1655.3 548.7,1654.8 564.0,1653.2C579.3,1651.6 578.9,1651.3 590.4,1650.9C601.9,1650.5 597.6,1649.3 607.0,1651.6C616.4,1653.9 615.7,1653.4 625.6,1659.4C635.5,1665.4 635.1,1666.5 644.2,1674.2C653.3,1681.9 651.5,1681.1 659.8,1688.1C668.1,1695.1 667.0,1695.8 675.3,1700.6C683.6,1705.4 682.5,1704.8 690.8,1706.0C699.1,1707.2 698.0,1707.5 706.3,1705.2C714.6,1702.9 713.6,1703.7 721.9,1697.5C730.2,1691.3 729.1,1689.4 737.4,1681.9C745.7,1674.4 742.6,1676.9 752.9,1669.5C763.2,1662.1 763.4,1661.6 776.2,1654.0C789.0,1646.4 794.4,1644.5 801.0,1641.0L801.0,1890 L30.0,1890Z" fill="#28f00a"/>
<path d="M76.0,1876.5C85.1,1865.4 90.3,1858.1 110.0,1835.0C129.7,1811.9 120.1,1820.5 150.0,1790.0C179.9,1759.5 182.0,1748.3 222.0,1720.7C262.0,1693.1 261.9,1699.9 300.0,1686.6C338.1,1673.3 333.0,1676.0 365.0,1671.0C397.0,1666.0 389.3,1666.7 420.0,1668.0C450.7,1669.3 448.0,1673.3 480.0,1676.0C512.0,1678.7 508.0,1679.1 540.0,1678.0C572.0,1676.9 577.3,1671.5 600.0,1672.0C622.7,1672.5 613.0,1672.5 625.0,1680.0C637.0,1687.5 634.3,1688.8 645.0,1700.0C655.7,1711.2 651.7,1713.2 665.0,1722.0C678.3,1730.8 679.0,1726.9 695.0,1733.0C711.0,1739.1 711.7,1733.8 725.0,1745.0C738.3,1756.2 736.2,1755.0 745.0,1775.0C753.8,1795.0 752.7,1792.9 758.0,1820.0C763.3,1847.1 763.1,1861.4 765.0,1876.5L765.0,1890 L76.0,1890Z" fill="#00fa14"/>
<path d="M95.0,1876.5C102.0,1869.2 115.0,1855.3 130.0,1840.0C145.0,1824.7 151.6,1818.3 170.0,1800.0C188.4,1781.7 196.0,1767.7 222.0,1748.7C248.0,1729.7 271.4,1716.7 300.0,1705.2C328.6,1693.7 345.0,1694.2 365.0,1691.2C385.0,1688.2 389.0,1688.6 400.0,1690.0C411.0,1691.4 413.6,1693.6 420.0,1698.0C426.4,1702.4 428.0,1706.8 432.0,1712.0C436.0,1717.2 406.4,1721.6 440.0,1724.0C473.6,1726.4 566.8,1722.2 600.0,1724.0C633.2,1725.8 601.0,1728.8 606.0,1733.0C611.0,1737.2 616.2,1737.6 625.0,1745.0C633.8,1752.4 639.0,1759.0 650.0,1770.0C661.0,1781.0 668.0,1787.0 680.0,1800.0C692.0,1813.0 698.4,1819.7 710.0,1835.0C721.6,1850.3 732.4,1868.2 738.0,1876.5L738.0,1890 L95.0,1890Z" fill="#00f53c"/>
<path d="M112.0,1876.5C119.6,1868.8 134.4,1853.3 150.0,1838.0C165.6,1822.7 175.6,1813.8 190.0,1800.0C204.4,1786.2 200.0,1783.5 222.0,1768.9C244.0,1754.3 271.4,1738.2 300.0,1727.0C328.6,1715.8 346.0,1717.2 365.0,1713.0C384.0,1708.8 385.6,1707.0 395.0,1706.0C404.4,1705.0 406.2,1705.2 412.0,1708.0C417.8,1710.8 420.4,1715.2 424.0,1720.0C427.6,1724.8 394.8,1729.0 430.0,1732.0C465.2,1735.0 563.6,1733.4 600.0,1735.0C636.4,1736.6 604.8,1734.6 612.0,1740.0C619.2,1745.4 627.2,1752.0 636.0,1762.0C644.8,1772.0 646.0,1777.4 656.0,1790.0C666.0,1802.6 674.8,1812.0 686.0,1825.0C697.2,1838.0 702.2,1844.7 712.0,1855.0C721.8,1865.3 730.4,1872.2 735.0,1876.5L735.0,1890 L112.0,1890Z" fill="#00f573"/>
<path d="M124.0,1876.5C131.2,1869.6 144.8,1856.1 160.0,1842.0C175.2,1827.9 187.6,1816.9 200.0,1806.0C212.4,1795.1 202.0,1798.3 222.0,1787.5C242.0,1776.7 271.4,1762.0 300.0,1751.8C328.6,1741.6 346.0,1742.3 365.0,1736.3C384.0,1730.3 386.4,1726.1 395.0,1722.0C403.6,1717.9 403.4,1716.0 408.0,1716.0C412.6,1716.0 414.4,1718.0 418.0,1722.0C421.6,1726.0 388.6,1733.0 426.0,1736.0C463.4,1739.0 567.1,1736.8 605.0,1737.0C642.9,1737.2 610.8,1734.0 615.5,1737.0C620.2,1740.0 623.0,1745.7 628.7,1751.8C634.4,1757.9 639.5,1761.7 644.2,1767.3C648.9,1772.9 648.9,1774.5 652.0,1779.8C655.1,1785.1 656.7,1788.7 659.8,1793.7C662.9,1798.7 662.9,1799.3 667.5,1804.6C672.1,1809.9 676.8,1814.2 683.0,1820.1C689.2,1826.0 692.4,1828.5 698.6,1834.1C704.8,1839.7 709.1,1842.8 714.1,1848.1C719.1,1853.4 719.7,1854.8 723.4,1860.5C727.1,1866.2 730.8,1873.3 732.7,1876.5L732.7,1890 L124.0,1890Z" fill="#00f5aa"/>
<path d="M430.0,1740.0C392.5,1742.0 423.7,1743.1 424.2,1748.7C424.7,1754.3 428.4,1757.3 432.0,1764.2C435.6,1771.1 435.1,1771.7 439.8,1778.2C444.5,1784.7 445.0,1786.4 452.2,1792.2C459.4,1798.0 459.9,1798.3 470.8,1803.0C481.7,1807.7 487.2,1809.7 498.8,1812.4C510.4,1815.1 508.3,1814.7 520.5,1814.7C532.7,1814.7 536.6,1814.0 551.0,1812.4C565.4,1810.8 569.8,1810.1 582.1,1807.7C594.4,1805.3 597.4,1805.2 603.9,1802.3C610.4,1799.4 608.4,1799.1 610.0,1795.3C611.6,1791.5 612.2,1791.4 610.8,1786.0C609.4,1780.6 608.4,1778.9 603.9,1772.0C599.4,1765.1 595.8,1764.0 591.4,1756.5C587.0,1749.0 622.7,1743.8 585.0,1740.0C547.3,1736.2 467.5,1738.0 430.0,1740.0Z" fill="#00f573"/>
<path d="M432.0,1745.0C392.5,1750.3 433.9,1758.1 440.0,1768.0C446.1,1777.9 444.3,1775.6 455.0,1782.0C465.7,1788.4 462.7,1787.7 480.0,1792.0C497.3,1796.3 498.7,1796.9 520.0,1798.0C541.3,1799.1 541.3,1798.1 560.0,1796.0C578.7,1793.9 579.1,1794.3 590.0,1790.0C600.9,1785.7 599.1,1786.7 601.0,1780.0C602.9,1773.3 600.5,1773.5 597.0,1765.0C593.5,1756.5 632.0,1753.3 588.0,1748.0C544.0,1742.7 471.5,1739.7 432.0,1745.0Z" fill="#00f53c"/>
<path d="M440.0,1745.0C404.8,1749.8 440.5,1755.0 448.0,1763.0C455.5,1771.0 454.1,1769.7 468.0,1775.0C481.9,1780.3 480.8,1780.1 500.0,1783.0C519.2,1785.9 520.0,1786.3 540.0,1786.0C560.0,1785.7 561.1,1785.7 575.0,1782.0C588.9,1778.3 588.5,1778.4 592.0,1772.0C595.5,1765.6 591.2,1765.2 588.0,1758.0C584.8,1750.8 619.5,1748.5 580.0,1745.0C540.5,1741.5 475.2,1740.2 440.0,1745.0Z" fill="#00fa14"/>
<path d="M133.7,1876.5C135.9,1873.9 140.6,1868.0 144.6,1863.6C148.6,1859.2 148.6,1858.8 153.9,1854.3C159.2,1849.8 165.4,1845.5 171.0,1841.1C176.6,1836.7 175.9,1836.4 181.8,1832.5C187.7,1828.6 194.3,1825.1 200.5,1821.7C206.7,1818.3 206.7,1818.3 212.9,1815.5C219.1,1812.7 225.0,1810.2 231.5,1807.7C238.0,1805.2 238.7,1805.2 245.5,1803.0C252.3,1800.8 258.9,1798.8 265.7,1796.8C272.5,1794.8 272.9,1794.9 279.7,1793.0C286.5,1791.1 292.6,1789.7 299.8,1787.5C307.0,1785.3 306.1,1785.1 315.5,1782.0C324.9,1778.9 335.7,1775.9 346.6,1772.0C357.5,1768.1 360.6,1767.4 369.9,1762.7C379.2,1758.0 386.1,1754.3 393.2,1748.7C400.3,1743.1 401.9,1739.7 405.6,1734.7C409.3,1729.7 409.3,1727.3 411.8,1723.9C414.3,1720.5 416.2,1714.4 418.0,1717.6C419.8,1720.8 419.4,1731.0 421.0,1740.0C422.6,1749.0 423.6,1754.7 425.8,1762.7C428.0,1770.7 428.3,1772.4 432.0,1779.8C435.7,1787.2 439.7,1793.1 444.4,1799.9C449.1,1806.7 449.7,1808.6 455.3,1813.9C460.9,1819.2 463.1,1821.0 472.4,1826.3C481.7,1831.6 492.9,1836.7 501.9,1840.3C510.9,1843.9 510.6,1842.9 517.4,1844.2C524.2,1845.5 526.7,1846.5 536.0,1846.8C545.3,1847.1 550.1,1847.8 564.0,1845.7C577.9,1843.6 592.5,1838.9 605.4,1836.4C618.3,1833.9 620.9,1833.3 628.7,1833.3C636.5,1833.3 638.0,1834.4 644.2,1836.4C650.4,1838.4 653.6,1840.1 659.8,1843.4C666.0,1846.7 669.1,1848.3 675.3,1852.7C681.5,1857.1 685.5,1860.4 690.8,1865.2C696.1,1870.0 699.5,1874.2 701.7,1876.5L701.7,1890 L133.7,1890Z" fill="#00f5dc"/>
<path d="M160.0,1876.5C166.7,1871.0 168.5,1866.9 185.0,1856.0C201.5,1845.1 191.3,1846.4 222.0,1835.6C252.7,1824.8 268.5,1823.4 300.0,1815.5C331.5,1807.6 322.7,1810.1 340.0,1806.0C357.3,1801.9 352.5,1802.5 365.0,1800.0C377.5,1797.5 375.3,1795.6 387.0,1796.8C398.7,1798.0 398.8,1798.8 408.7,1804.6C418.6,1810.4 415.9,1809.5 424.2,1818.6C432.5,1827.7 431.5,1829.7 439.8,1838.8C448.1,1847.9 442.9,1846.1 455.3,1852.7C467.7,1859.3 465.6,1860.1 486.3,1863.6C507.0,1867.1 502.7,1867.2 533.0,1866.0C563.3,1864.8 574.1,1861.1 600.0,1859.0C625.9,1856.9 615.3,1856.4 630.0,1858.0C644.7,1859.6 643.0,1860.1 655.0,1865.0C667.0,1869.9 669.7,1873.4 675.0,1876.5L675.0,1890 L160.0,1890Z" fill="#00e6ff"/>
<path d="M245.5,1876.5C250.7,1872.6 250.5,1870.4 265.0,1862.0C279.5,1853.6 280.0,1852.5 300.0,1845.0C320.0,1837.5 322.2,1837.9 340.0,1834.0C357.8,1830.1 352.6,1828.5 366.8,1830.2C381.0,1831.9 377.9,1833.9 393.2,1840.3C408.5,1846.7 412.3,1848.2 424.2,1854.3C436.1,1860.4 433.7,1857.1 438.0,1863.0C442.3,1868.9 439.8,1872.9 440.5,1876.5L440.5,1890 L245.5,1890Z" fill="#00b4ff"/>
<path d="M329.5,1876.5C332.3,1874.2 334.2,1871.9 340.0,1868.0C345.8,1864.1 344.5,1863.3 351.2,1862.0C357.9,1860.7 358.4,1861.4 365.0,1863.0C371.6,1864.6 370.3,1864.4 376.0,1868.0C381.7,1871.6 383.5,1874.2 386.2,1876.5L386.2,1890 L329.5,1890Z" fill="#0082ff"/>
<g filter="url(#blAII)">
<ellipse cx="408" cy="1702" rx="12" ry="21" fill="#00f573" transform="rotate(22 408 1702)"/>
<ellipse cx="410" cy="1704" rx="7" ry="16" fill="#00f5aa" transform="rotate(22 410 1704)"/>
<ellipse cx="606" cy="1716" rx="8" ry="15" fill="#00f5aa"/>
<ellipse cx="420.5" cy="1737" rx="2.5" ry="7" fill="#1060ff"/>
</g>
<path d="M33.0,1880.0C27.7,1862.7 31.1,1834.7 33.0,1815.0C34.9,1795.3 35.5,1810.3 40.0,1806.0C44.5,1801.7 44.5,1801.0 50.0,1799.0C55.5,1797.0 55.4,1796.1 60.7,1798.4C66.0,1800.7 68.3,1798.2 70.0,1807.7C71.7,1817.2 70.7,1820.7 67.0,1834.0C63.3,1847.3 59.7,1845.1 56.0,1857.4C52.3,1869.7 59.1,1874.0 53.0,1880.0C46.9,1886.0 38.3,1897.3 33.0,1880.0Z" fill="#50f000"/>
<polygon points="33.0,1880.0 33.0,1850.0 40.0,1852.0 43.0,1880.0" fill="#7df500"/>
<path d="M762.0,1880.0C752.1,1872.0 762.9,1862.3 765.0,1850.0C767.1,1837.7 764.7,1841.5 770.0,1834.0C775.3,1826.5 776.5,1826.3 785.0,1822.0C793.5,1817.7 797.5,1802.5 802.0,1818.0C806.5,1833.5 812.7,1863.5 802.0,1880.0C791.3,1896.5 771.9,1888.0 762.0,1880.0Z" fill="#50f000"/>
<polygon points="780.0,1880.0 783.0,1860.0 792.0,1848.0 802.0,1845.0 802.0,1880.0" fill="#7df500"/>
<polygon points="789.0,1880.0 792.0,1866.0 802.0,1860.0 802.0,1880.0" fill="#b4ff00"/>
<polygon points="794.0,1880.0 797.0,1870.0 802.0,1868.0 802.0,1880.0" fill="#f0ff14"/>
<rect x="77.5" y="1481.3" width="1" height="395.20000000000005" fill="#fff" opacity="0.1"/>
<rect x="222.0" y="1481.3" width="1" height="395.20000000000005" fill="#fff" opacity="0.1"/>
<rect x="366.0" y="1481.3" width="1" height="395.20000000000005" fill="#fff" opacity="0.1"/>
<rect x="510.5" y="1481.3" width="1" height="395.20000000000005" fill="#fff" opacity="0.1"/>
<rect x="655.5" y="1481.3" width="1" height="395.20000000000005" fill="#fff" opacity="0.1"/>
<rect x="31" y="1606.5" width="769" height="1" fill="#fff" opacity="0.1"/>
<rect x="31" y="1752.0" width="769" height="1" fill="#fff" opacity="0.1"/>
</g>
<path d="M422.5,1738 C422.5,1722 462,1711.4 513,1711.4 C563,1711.4 603.8,1722 603.8,1736 C603.8,1750 563,1761.2 513,1761.2 C480,1761.2 452,1757.5 437,1750.5 C428,1746 422.5,1742.5 422.5,1738Z" fill="#fff"/>
<path d="M31.2,1566.5C34.5,1569.4 37.9,1572.1 43.7,1577.4C49.5,1582.7 46.4,1579.7 53.0,1586.2C59.6,1592.7 61.9,1595.1 68.6,1601.8C75.3,1608.5 70.5,1605.5 78.0,1611.2C85.5,1616.9 88.4,1618.8 96.7,1623.1C105.0,1627.4 100.1,1624.9 109.2,1627.3C118.3,1629.7 120.2,1630.5 131.0,1632.0C141.8,1633.5 137.0,1633.1 149.7,1632.8C162.4,1632.5 165.0,1632.1 178.8,1630.9C192.6,1629.7 189.3,1629.6 201.6,1628.3C213.9,1627.0 209.3,1627.8 225.0,1626.0C240.7,1624.2 241.7,1624.3 260.3,1621.6C278.9,1618.9 276.3,1618.9 294.6,1615.8C312.9,1612.7 310.3,1612.7 328.9,1610.1C347.5,1607.5 345.4,1608.0 364.2,1606.2C383.0,1604.4 383.5,1604.8 399.5,1603.4C415.5,1602.0 404.8,1602.5 424.1,1601.1C443.4,1599.7 445.3,1599.1 471.8,1598.0C498.3,1596.9 495.9,1597.2 523.5,1597.0C551.1,1596.8 550.4,1596.6 575.3,1597.4C600.2,1598.2 597.4,1598.3 616.7,1600.1C636.0,1601.9 631.1,1601.6 647.7,1604.2C664.3,1606.8 665.0,1607.6 678.8,1609.8C692.6,1612.0 688.5,1612.2 699.5,1612.5C710.5,1612.8 706.4,1612.7 720.2,1610.8C734.0,1608.9 737.5,1607.5 751.3,1605.3C765.1,1603.1 759.1,1603.3 772.0,1602.6C784.9,1601.9 792.2,1602.7 799.5,1602.8" fill="none" stroke="#0a0a0a" stroke-width="2.1" stroke-dasharray="23 11.5" stroke-dashoffset="0"/>
<path d="M31.2,1590.4C32.3,1592.2 32.6,1592.4 35.4,1597.1C38.2,1601.8 36.3,1600.2 41.6,1608.1C46.9,1616.0 49.6,1619.3 55.1,1626.8C60.6,1634.3 56.3,1629.2 62.4,1636.1C68.5,1643.0 71.4,1645.9 78.0,1652.7C84.6,1659.5 82.3,1657.4 87.3,1661.6C92.3,1665.8 91.4,1665.1 96.7,1668.3C102.0,1671.5 101.3,1671.2 107.1,1673.5C112.9,1675.8 111.3,1675.7 118.5,1677.1C125.7,1678.5 124.7,1679.0 134.1,1678.9C143.5,1678.8 143.0,1678.9 153.8,1676.6C164.6,1674.3 165.5,1673.4 174.6,1670.4C183.7,1667.4 179.2,1668.1 188.1,1665.2C197.0,1662.3 198.1,1662.0 207.9,1659.5C217.7,1657.0 209.3,1659.3 225.0,1655.8C240.7,1652.3 246.4,1651.2 266.6,1646.5C286.8,1641.8 282.5,1642.2 300.8,1638.2C319.1,1634.2 316.5,1634.9 335.1,1631.4C353.7,1627.9 351.9,1627.5 370.5,1625.2C389.1,1622.9 389.0,1623.3 404.7,1622.6C420.4,1621.9 411.4,1621.3 429.3,1622.4C447.2,1623.5 450.5,1625.3 471.8,1626.6C493.1,1627.9 489.7,1628.1 509.0,1627.4C528.3,1626.7 524.9,1625.5 544.2,1623.9C563.5,1622.3 562.2,1621.1 581.5,1621.4C600.8,1621.7 599.0,1621.5 616.7,1624.9C634.4,1628.3 632.8,1628.7 647.7,1634.2C662.6,1639.7 660.4,1641.3 672.6,1645.6C684.8,1649.9 682.3,1649.9 693.3,1650.2C704.3,1650.5 701.3,1651.0 714.0,1646.7C726.7,1642.4 725.4,1640.8 740.9,1634.2C756.4,1627.6 757.7,1627.0 772.0,1621.8C786.3,1616.6 787.4,1616.9 794.7,1614.6C802.0,1612.3 798.2,1613.4 799.5,1613.0" fill="none" stroke="#0a0a0a" stroke-width="2.1" stroke-dasharray="23 11.5" stroke-dashoffset="0"/>
<path d="M31.2,1639.2C33.7,1644.7 36.7,1651.1 40.6,1660.0C44.5,1668.9 41.7,1661.3 45.8,1672.5C49.9,1683.7 49.9,1685.9 56.0,1702.0C62.1,1718.1 63.1,1720.5 68.5,1733.0C73.9,1745.5 72.5,1742.9 76.2,1748.7C79.9,1754.5 77.1,1754.3 82.5,1754.9C87.9,1755.5 88.1,1754.9 96.4,1751.0C104.7,1747.1 104.4,1746.2 113.5,1740.2C122.6,1734.2 119.0,1734.7 130.6,1728.5C142.2,1722.3 140.9,1723.1 157.0,1716.9C173.1,1710.7 173.3,1711.4 191.1,1705.2C208.9,1699.0 206.0,1700.0 223.8,1693.6C241.6,1687.2 239.7,1687.3 257.9,1681.1C276.1,1674.9 272.6,1676.3 292.1,1670.3C311.6,1664.3 312.4,1663.2 331.0,1658.6C349.6,1654.0 345.5,1656.1 362.0,1653.2C378.5,1650.3 379.7,1649.5 393.0,1647.8C406.3,1646.1 401.4,1646.2 411.8,1647.0C422.2,1647.8 420.4,1648.4 432.0,1650.9C443.6,1653.4 442.9,1654.0 455.3,1656.3C467.7,1658.6 466.2,1658.6 478.6,1659.4C491.0,1660.2 487.4,1660.0 501.9,1659.4C516.4,1658.8 516.4,1658.7 533.0,1657.0C549.6,1655.3 548.7,1654.8 564.0,1653.2C579.3,1651.6 578.9,1651.3 590.4,1650.9C601.9,1650.5 597.6,1649.3 607.0,1651.6C616.4,1653.9 615.7,1653.4 625.6,1659.4C635.5,1665.4 635.1,1666.5 644.2,1674.2C653.3,1681.9 651.5,1681.1 659.8,1688.1C668.1,1695.1 667.0,1695.8 675.3,1700.6C683.6,1705.4 682.5,1704.8 690.8,1706.0C699.1,1707.2 698.0,1707.5 706.3,1705.2C714.6,1702.9 713.6,1703.7 721.9,1697.5C730.2,1691.3 729.1,1689.4 737.4,1681.9C745.7,1674.4 742.6,1676.9 752.9,1669.5C763.2,1662.1 763.8,1661.4 776.2,1654.0C788.6,1646.6 793.3,1644.9 799.5,1641.6" fill="none" stroke="#0a0a0a" stroke-width="2.1" stroke-dasharray="23 11.5" stroke-dashoffset="0"/>
<path d="M418.0,1717.6C416.3,1719.3 415.1,1719.3 411.8,1723.9C408.5,1728.5 410.6,1728.1 405.6,1734.7C400.6,1741.3 402.7,1741.2 393.2,1748.7C383.7,1756.2 382.3,1756.5 369.9,1762.7C357.5,1768.9 361.1,1766.9 346.6,1772.0C332.1,1777.1 328.0,1777.9 315.5,1782.0C303.0,1786.1 309.3,1784.6 299.8,1787.5C290.3,1790.4 288.8,1790.5 279.7,1793.0C270.6,1795.5 274.8,1794.1 265.7,1796.8C256.6,1799.5 254.6,1800.1 245.5,1803.0C236.4,1805.9 240.2,1804.4 231.5,1807.7C222.8,1811.0 221.2,1811.8 212.9,1815.5C204.6,1819.2 208.8,1817.2 200.5,1821.7C192.2,1826.2 189.7,1827.3 181.8,1832.5C173.9,1837.7 178.4,1835.3 171.0,1841.1C163.6,1846.9 160.9,1848.3 153.9,1854.3C146.9,1860.3 150.0,1857.7 144.6,1863.6C139.2,1869.5 136.6,1873.1 133.7,1876.5" fill="none" stroke="#0a0a0a" stroke-width="2.1" stroke-dasharray="23 11.5" stroke-dashoffset="0"/>
<path d="M424.2,1748.7C426.3,1752.8 427.8,1756.3 432.0,1764.2C436.2,1772.1 434.4,1770.7 439.8,1778.2C445.2,1785.7 443.9,1785.6 452.2,1792.2C460.5,1798.8 458.4,1797.6 470.8,1803.0C483.2,1808.4 485.5,1809.3 498.8,1812.4C512.1,1815.5 506.6,1814.7 520.5,1814.7C534.4,1814.7 534.6,1814.3 551.0,1812.4C567.4,1810.5 568.0,1810.4 582.1,1807.7C596.2,1805.0 596.5,1805.6 603.9,1802.3C611.3,1799.0 608.2,1799.6 610.0,1795.3C611.8,1791.0 612.4,1792.2 610.8,1786.0C609.2,1779.8 609.1,1779.9 603.9,1772.0C598.7,1764.1 594.7,1760.6 591.4,1756.5" fill="none" stroke="#0a0a0a" stroke-width="2.1" stroke-dasharray="23 11.5" stroke-dashoffset="0"/>
<path d="M425.8,1762.7C427.5,1767.3 427.0,1769.9 432.0,1779.8C437.0,1789.7 438.2,1790.8 444.4,1799.9C450.6,1809.0 447.8,1806.9 455.3,1813.9C462.8,1820.9 460.0,1819.3 472.4,1826.3C484.8,1833.3 489.9,1835.5 501.9,1840.3C513.9,1845.1 508.3,1842.5 517.4,1844.2C526.5,1845.9 523.6,1846.4 536.0,1846.8C548.4,1847.2 545.5,1848.5 564.0,1845.7C582.5,1842.9 588.1,1839.7 605.4,1836.4C622.7,1833.1 618.4,1833.3 628.7,1833.3C639.0,1833.3 635.9,1833.7 644.2,1836.4C652.5,1839.1 651.5,1839.1 659.8,1843.4C668.1,1847.7 667.0,1846.9 675.3,1852.7C683.6,1858.5 683.8,1858.9 690.8,1865.2C697.8,1871.5 698.8,1873.5 701.7,1876.5" fill="none" stroke="#0a0a0a" stroke-width="2.1" stroke-dasharray="23 11.5" stroke-dashoffset="0"/>
<path d="M615.5,1737.0C619.0,1740.9 621.0,1743.7 628.7,1751.8C636.4,1759.9 638.0,1759.8 644.2,1767.3C650.4,1774.8 647.8,1772.8 652.0,1779.8C656.2,1786.8 655.7,1787.1 659.8,1793.7C663.9,1800.3 661.3,1797.6 667.5,1804.6C673.7,1811.6 674.7,1812.2 683.0,1820.1C691.3,1828.0 690.3,1826.6 698.6,1834.1C706.9,1841.6 707.5,1841.1 714.1,1848.1C720.7,1855.1 718.4,1852.9 723.4,1860.5C728.4,1868.1 730.2,1872.2 732.7,1876.5" fill="none" stroke="#0a0a0a" stroke-width="2.1" stroke-dasharray="23 11.5" stroke-dashoffset="0"/>
<rect x="31" y="1481.3" width="769" height="395.20000000000005" fill="none" stroke="#000" stroke-width="2.2"/>
<text x="436.5" y="1749" font-size="37.8">10 MPa</text>
<text x="744" y="1524.5" font-size="40.5">(ii)</text>
<defs><clipPath id="clipBI"><polygon points="1064.5,831.8 1076.0,828.7 1086.6,828.7 1107.6,835.0 1139.2,845.5 1168.6,851.8 1286.5,851.8 1301.2,848.7 1332.8,846.1 1366.4,844.4 1382.1,842.3 1409.4,840.2 1466.3,839.2 1487.3,831.8 1518.9,823.4 1539.9,815.0 1552.5,815.4 1571.5,822.4 1603.0,829.7 1652.6,837.1 1705.2,843.4 1768.4,847.2 1829.5,848.7 1829.5,1198.0 1064.5,1198.0"/></clipPath><filter id="blBI" x="-20%" y="-20%" width="140%" height="140%"><feGaussianBlur stdDeviation="2"/></filter></defs>
<g clip-path="url(#clipBI)">
<rect x="1062.3" y="802.7" width="769.4000000000001" height="395.29999999999995" fill="#0082ff"/>
<path d="M1483.1,876.0C1451.7,877.7 1467.1,876.8 1457.8,883.4C1448.5,890.0 1450.9,895.6 1443.1,904.4C1435.3,913.2 1433.0,913.3 1424.2,921.2C1415.4,929.1 1412.6,930.2 1405.2,938.1C1397.8,946.0 1398.5,946.5 1392.6,954.9C1386.7,963.3 1384.4,964.1 1380.0,973.9C1375.6,983.7 1376.6,985.7 1373.7,997.0C1370.8,1008.3 1371.8,1009.9 1367.4,1022.2C1363.0,1034.5 1360.1,1037.8 1354.7,1049.6C1349.3,1061.4 1347.8,1063.4 1344.2,1072.7C1340.6,1082.0 1340.3,1079.3 1339.1,1089.6C1337.9,1099.9 1337.6,1106.1 1339.1,1116.9C1340.6,1127.7 1341.5,1127.5 1345.4,1135.9C1349.3,1144.3 1350.0,1145.8 1355.9,1152.7C1361.8,1159.6 1362.2,1162.1 1370.6,1165.3C1379.0,1168.5 1382.6,1168.4 1391.7,1166.4C1400.8,1164.4 1400.3,1162.1 1409.4,1156.9C1418.5,1151.7 1421.2,1150.2 1430.5,1144.3C1439.8,1138.4 1441.0,1138.1 1449.4,1131.7C1457.8,1125.3 1459.9,1123.8 1466.3,1116.9C1472.7,1110.0 1473.9,1108.6 1476.8,1102.2C1479.7,1095.8 1478.9,1096.0 1478.9,1089.6C1478.9,1083.2 1475.8,1087.2 1476.8,1074.9C1477.8,1062.6 1480.2,1049.3 1483.1,1037.0C1486.0,1024.7 1486.5,1029.6 1489.4,1022.2C1492.3,1014.8 1492.3,1013.2 1495.7,1005.4C1499.1,997.6 1499.7,996.0 1504.1,988.6C1508.5,981.2 1507.7,978.8 1514.6,973.9C1521.5,969.0 1525.2,969.0 1533.6,967.5C1542.0,966.0 1542.6,966.0 1550.4,967.5C1558.2,969.0 1560.8,969.0 1567.2,973.9C1573.6,978.8 1572.9,981.2 1577.8,988.6C1582.7,996.0 1583.9,997.6 1588.3,1005.4C1592.7,1013.2 1593.3,1014.8 1596.7,1022.2C1600.1,1029.6 1599.6,1024.7 1603.0,1037.0C1606.4,1049.3 1609.4,1062.6 1611.4,1074.9C1613.4,1087.2 1609.4,1082.7 1611.4,1089.6C1613.4,1096.5 1615.5,1099.4 1619.9,1104.3C1624.3,1109.2 1625.0,1108.1 1630.4,1110.6C1635.8,1113.0 1637.1,1111.3 1643.0,1114.8C1648.9,1118.3 1647.7,1120.5 1655.6,1125.4C1663.5,1130.3 1666.9,1132.5 1676.7,1135.9C1686.5,1139.3 1688.1,1140.5 1697.7,1140.1C1707.3,1139.7 1710.1,1138.9 1717.8,1134.0C1725.5,1129.1 1725.1,1127.0 1730.5,1119.1C1735.9,1111.2 1737.1,1109.4 1741.0,1100.1C1744.9,1090.8 1745.3,1088.9 1747.3,1079.1C1749.3,1069.3 1750.4,1066.8 1749.4,1058.0C1748.4,1049.2 1748.5,1049.5 1743.1,1041.2C1737.7,1032.9 1732.7,1031.6 1726.3,1022.3C1719.9,1013.0 1720.1,1011.5 1715.7,1001.2C1711.3,990.9 1710.7,987.4 1707.3,978.1C1703.9,968.8 1706.4,969.6 1701.0,961.2C1695.6,952.8 1691.6,950.6 1684.2,942.3C1676.8,934.0 1677.8,933.4 1669.4,925.5C1661.0,917.6 1654.6,914.5 1648.4,908.6C1642.2,902.7 1649.7,906.1 1643.0,900.2C1636.3,894.3 1631.7,889.0 1619.9,883.4C1608.1,877.8 1624.4,877.7 1592.5,876.0C1560.6,874.3 1514.5,874.3 1483.1,876.0Z" fill="#00b4ff"/>
<rect x="1633" y="1105" width="8" height="29" fill="#00b4ff"/>
<path d="M1457.8,976.0C1462.7,978.0 1465.6,978.5 1470.5,984.4C1475.4,990.3 1476.5,992.4 1478.9,1001.2C1481.4,1010.0 1481.5,1014.8 1481.0,1022.2C1480.5,1029.6 1479.4,1025.1 1476.8,1032.8C1474.2,1040.5 1472.5,1045.2 1470.0,1055.0C1467.5,1064.8 1466.7,1066.8 1466.3,1074.9C1465.9,1083.0 1469.4,1084.2 1468.4,1089.6C1467.4,1095.0 1467.4,1095.5 1462.0,1098.0C1456.6,1100.5 1455.0,1099.6 1445.2,1100.1C1435.4,1100.6 1427.9,1102.5 1420.0,1100.1C1412.1,1097.6 1414.5,1095.5 1411.5,1089.6C1408.5,1083.7 1407.7,1082.3 1407.3,1074.9C1406.9,1067.5 1408.1,1066.8 1409.6,1058.0C1411.1,1049.2 1410.2,1049.3 1413.6,1037.0C1417.0,1024.7 1418.3,1018.2 1424.2,1005.4C1430.1,992.6 1433.0,989.2 1438.9,982.3C1444.8,975.4 1445.0,977.5 1449.4,976.0C1453.8,974.5 1452.9,974.0 1457.8,976.0Z" fill="#00e6ff"/>
<path d="M1630.4,967.5C1624.5,971.4 1618.9,975.6 1613.5,984.4C1608.1,993.2 1608.2,995.6 1607.2,1005.4C1606.2,1015.2 1608.2,1016.1 1609.3,1026.5C1610.4,1036.9 1611.5,1038.7 1612.0,1050.0C1612.5,1061.3 1611.1,1066.6 1611.4,1074.9C1611.8,1083.2 1611.0,1082.0 1613.5,1085.4C1616.0,1088.8 1615.1,1088.6 1622.0,1089.6C1628.9,1090.6 1633.7,1092.0 1643.0,1089.6C1652.3,1087.1 1654.5,1085.0 1661.9,1079.1C1669.3,1073.2 1671.1,1072.7 1674.6,1064.3C1678.1,1055.9 1677.7,1054.6 1676.7,1043.3C1675.7,1032.0 1673.9,1027.2 1670.4,1015.9C1666.9,1004.6 1666.8,1004.2 1661.9,994.9C1657.0,985.6 1654.7,982.4 1649.3,976.0C1643.9,969.6 1643.2,969.5 1638.8,967.5C1634.4,965.5 1636.3,963.6 1630.4,967.5Z" fill="#00e6ff"/>
<path d="M1451.5,1009.6C1457.4,1009.1 1461.9,1011.0 1466.3,1015.9C1470.7,1020.8 1470.1,1021.6 1470.5,1030.7C1470.9,1039.8 1469.0,1043.7 1468.0,1055.0C1467.0,1066.3 1468.7,1071.0 1466.3,1079.1C1463.9,1087.2 1463.7,1088.1 1457.8,1089.6C1451.9,1091.1 1446.9,1090.3 1441.0,1085.4C1435.1,1080.5 1434.6,1079.8 1432.6,1068.5C1430.6,1057.2 1430.6,1048.8 1432.6,1037.0C1434.6,1025.2 1436.6,1024.4 1441.0,1018.0C1445.4,1011.6 1445.6,1010.1 1451.5,1009.6Z" fill="#00f5dc"/>
<path d="M1630.0,1004.0C1624.6,1004.0 1623.8,1004.4 1619.9,1009.6C1616.1,1014.9 1614.9,1016.6 1613.5,1026.5C1612.1,1036.4 1613.0,1040.2 1614.0,1052.0C1615.0,1063.8 1612.9,1069.2 1617.7,1077.0C1622.5,1084.8 1626.2,1085.9 1634.6,1085.4C1643.0,1084.9 1647.1,1081.3 1653.5,1074.9C1659.9,1068.5 1661.4,1069.3 1661.9,1058.0C1662.4,1046.7 1660.0,1037.8 1655.6,1026.5C1651.2,1015.2 1649.0,1014.9 1643.0,1009.6C1637.0,1004.4 1635.4,1004.0 1630.0,1004.0Z" fill="#00f5dc"/>
<g filter="url(#blBI)">
<ellipse cx="1452" cy="1054" rx="15" ry="29" fill="#00f5aa"/>
<ellipse cx="1453" cy="1054" rx="11.5" ry="24" fill="#00f53c"/>
<ellipse cx="1454" cy="1056" rx="7.5" ry="17" fill="#50f000"/>
<ellipse cx="1455" cy="1057" rx="5" ry="11" fill="#f0ff14"/>
<ellipse cx="1456" cy="1057" rx="3" ry="6" fill="#ff5010"/>
<ellipse cx="1636.5" cy="1050.5" rx="15" ry="29" fill="#00f5aa"/>
<ellipse cx="1635.5" cy="1050.5" rx="11.5" ry="24" fill="#00f53c"/>
<ellipse cx="1634.5" cy="1052.5" rx="7.5" ry="17" fill="#50f000"/>
<ellipse cx="1633.5" cy="1053.5" rx="5" ry="11" fill="#f0ff14"/>
<ellipse cx="1632.5" cy="1053.5" rx="3" ry="6" fill="#ff5010"/>
</g>
<path d="M1499.9,1030.0C1489.4,1025.8 1497.9,1027.5 1499.9,1022.2C1501.9,1017.0 1502.9,1012.9 1508.3,1007.5C1513.7,1002.1 1515.2,1001.6 1523.1,999.1C1531.0,996.6 1532.7,996.7 1542.0,997.0C1551.3,997.3 1554.6,997.3 1563.0,1000.2C1571.4,1003.1 1572.4,1004.5 1577.8,1009.6C1583.2,1014.7 1583.8,1017.0 1586.2,1022.2C1588.6,1027.4 1597.6,1027.8 1588.0,1032.0C1578.4,1036.2 1565.6,1040.5 1545.0,1040.0C1524.4,1039.5 1510.4,1034.2 1499.9,1030.0Z" fill="#0a41ff"/>
<path d="M1483.0,1066.0C1469.0,1069.5 1483.2,1069.4 1485.2,1074.9C1487.2,1080.4 1487.1,1083.2 1491.5,1089.6C1495.9,1096.0 1497.2,1097.8 1504.1,1102.2C1511.0,1106.6 1510.2,1106.5 1521.0,1108.5C1531.8,1110.5 1540.6,1108.1 1550.4,1110.6C1560.2,1113.0 1558.1,1119.5 1563.0,1119.0C1567.9,1118.5 1566.1,1113.9 1571.5,1108.5C1576.9,1103.1 1580.8,1101.8 1586.2,1095.9C1591.6,1090.0 1591.8,1090.3 1594.6,1083.3C1597.4,1076.3 1609.6,1071.4 1598.0,1066.0C1586.4,1060.6 1571.8,1060.0 1545.0,1060.0C1518.2,1060.0 1497.0,1062.5 1483.0,1066.0Z" fill="#0a41ff"/>
<path d="M1518.9,1030.0C1506.5,1028.2 1516.5,1026.0 1518.9,1022.2C1521.4,1018.4 1524.0,1016.5 1529.4,1013.8C1534.8,1011.1 1535.1,1010.7 1542.0,1010.7C1548.9,1010.7 1551.9,1011.1 1558.8,1013.8C1565.7,1016.5 1568.4,1018.4 1571.5,1022.2C1574.6,1026.0 1584.3,1028.2 1572.0,1030.0C1559.7,1031.8 1531.3,1031.8 1518.9,1030.0Z" fill="#0828ff"/>
<path d="M1508.3,1066.0C1493.2,1067.6 1503.4,1069.6 1508.3,1072.7C1513.2,1075.8 1519.7,1077.3 1529.4,1079.1C1539.1,1080.8 1540.2,1081.2 1550.0,1080.2C1559.8,1079.2 1566.1,1078.2 1571.5,1074.9C1576.9,1071.6 1587.7,1068.1 1573.0,1066.0C1558.3,1063.9 1523.4,1064.4 1508.3,1066.0Z" fill="#0828ff"/>
<path d="M1491.5,883.4C1489.9,879.7 1489.3,878.9 1500.0,877.5C1510.7,876.1 1528.4,876.5 1545.0,876.5C1561.6,876.5 1573.9,876.1 1583.0,877.5C1592.1,878.9 1591.4,879.5 1590.4,883.4C1589.4,887.3 1582.2,892.0 1578.0,897.0C1573.8,902.0 1572.4,902.9 1569.4,908.6C1566.4,914.3 1565.5,919.6 1563.0,925.5C1560.5,931.4 1562.2,935.6 1556.7,938.1C1551.2,940.6 1542.0,940.6 1535.7,938.1C1529.4,935.6 1528.1,931.4 1525.2,925.5C1522.3,919.6 1524.4,914.5 1521.0,908.6C1517.6,902.7 1513.9,901.0 1508.0,896.0C1502.1,891.0 1493.1,887.1 1491.5,883.4Z" fill="#00e6ff"/>
<path d="M1508.3,883.4C1507.7,880.1 1508.7,879.7 1516.0,878.5C1523.3,877.3 1533.8,877.5 1545.0,877.5C1556.2,877.5 1565.4,877.3 1572.0,878.5C1578.6,879.7 1578.2,880.1 1577.8,883.4C1577.4,886.7 1572.4,890.7 1570.0,895.0C1567.6,899.3 1571.0,904.0 1566.0,905.0C1561.0,906.0 1553.4,900.0 1545.0,900.0C1536.6,900.0 1529.2,906.0 1524.0,905.0C1518.8,904.0 1522.1,899.3 1519.0,895.0C1515.9,890.7 1508.9,886.7 1508.3,883.4Z" fill="#00f5dc"/>
<ellipse cx="1545" cy="887" rx="15" ry="10" fill="#00f573" filter="url(#blBI)"/>
<ellipse cx="1545" cy="930" rx="11" ry="6" fill="#00f5dc" filter="url(#blBI)"/>
<rect x="1510" y="913" width="11" height="6" rx="3" fill="#0082ff"/>
<rect x="1569" y="913" width="11" height="6" rx="3" fill="#0082ff"/>
<ellipse cx="1551" cy="1199" rx="27" ry="13" fill="#0a41ff"/>
<ellipse cx="1830" cy="902" rx="8.5" ry="21" fill="#0a41ff"/>
<rect x="1112.4" y="802.7" width="1" height="395.29999999999995" fill="#fff" opacity="0.2"/>
<rect x="1256.1" y="802.7" width="1" height="395.29999999999995" fill="#fff" opacity="0.2"/>
<rect x="1399.1" y="802.7" width="1" height="395.29999999999995" fill="#fff" opacity="0.2"/>
<rect x="1542.1" y="802.7" width="1" height="395.29999999999995" fill="#fff" opacity="0.2"/>
<rect x="1685.2" y="802.7" width="1" height="395.29999999999995" fill="#fff" opacity="0.2"/>
<rect x="1062.3" y="922.2" width="769.4000000000001" height="1" fill="#fff" opacity="0.2"/>
<rect x="1062.3" y="1069.1" width="769.4000000000001" height="1" fill="#fff" opacity="0.2"/>
</g>
<path d="M1451.5,1056 C1466,1036 1500,1024.4 1542,1024.4 C1588,1024.4 1622,1034 1636.7,1050.7 C1630,1062 1622,1070.6 1606,1070.6 L1478,1070.6 C1465,1070.6 1456,1064 1451.5,1056Z" fill="#fff"/>
<path d="M1523,909 C1523,901 1533,896 1545,896 C1558,896 1568.5,901 1568.5,908.5 C1568.5,916 1559,921.2 1547,921.2 C1534,921.2 1523,917 1523,909Z" fill="#fff"/>
<path d="M1443.7,1029.6C1445.4,1023.1 1445.6,1021.4 1449.9,1005.3C1454.2,989.2 1454.2,987.2 1459.8,969.3C1465.4,951.4 1464.4,953.5 1471.0,938.3C1477.6,923.1 1477.1,924.1 1484.7,912.2C1492.3,900.3 1491.0,901.0 1499.6,893.5C1508.2,886.0 1507.4,887.5 1517.0,884.2C1526.6,880.9 1527.0,881.8 1535.6,881.1C1544.2,880.4 1541.7,880.6 1549.3,881.4C1556.9,882.2 1555.6,881.6 1564.2,884.2C1572.8,886.8 1573.0,886.2 1581.6,891.0C1590.2,895.8 1588.9,894.9 1596.5,902.2C1604.1,909.5 1602.8,908.5 1610.1,918.4C1617.4,928.3 1616.8,926.9 1623.8,939.5C1630.8,952.1 1630.3,951.7 1636.2,965.6C1642.1,979.5 1641.5,978.4 1646.1,991.7C1650.7,1005.0 1650.9,1006.0 1653.6,1015.3C1656.3,1024.6 1655.4,1023.5 1656.1,1026.5" fill="none" stroke="#ff2d0f" stroke-width="3.5" stroke-dasharray="23 12" stroke-dashoffset="20"/>
<path d="M1462.9,1026.5C1461.8,1025.5 1461.4,1023.7 1458.6,1022.7C1455.8,1021.7 1455.7,1021.7 1452.4,1022.7C1449.1,1023.7 1447.8,1025.5 1446.1,1026.5" fill="none" stroke="#0a0a0a" stroke-width="2.1" stroke-dasharray="40 4" stroke-dashoffset="0"/>
<path d="M1437.5,1038.9C1437.0,1041.5 1436.0,1043.2 1435.6,1048.8C1435.2,1054.4 1435.5,1055.4 1436.0,1060.0C1436.5,1064.6 1437.1,1064.4 1437.5,1066.0" fill="none" stroke="#0a0a0a" stroke-width="2.1" stroke-dasharray="40 4" stroke-dashoffset="0"/>
<path d="M1438.9,1073.8C1441.7,1074.8 1443.8,1077.1 1449.4,1077.4C1455.0,1077.7 1457.1,1075.6 1459.9,1074.9" fill="none" stroke="#0a0a0a" stroke-width="2.1" stroke-dasharray="40 4" stroke-dashoffset="0"/>
<path d="M1626.3,1024.0C1628.3,1023.2 1629.7,1021.6 1633.7,1020.9C1637.7,1020.2 1637.7,1020.4 1641.2,1021.5C1644.7,1022.6 1645.3,1024.2 1646.8,1025.2" fill="none" stroke="#0a0a0a" stroke-width="2.1" stroke-dasharray="40 4" stroke-dashoffset="0"/>
<path d="M1653.6,1035.2C1653.9,1038.2 1654.6,1040.2 1654.8,1046.3C1655.0,1052.4 1654.8,1053.0 1654.3,1058.0C1653.8,1063.0 1653.3,1063.1 1653.0,1065.0" fill="none" stroke="#0a0a0a" stroke-width="2.1" stroke-dasharray="40 4" stroke-dashoffset="0"/>
<path d="M1649.3,1072.7C1647.1,1073.6 1645.4,1075.9 1640.9,1075.9C1636.4,1075.9 1634.7,1073.6 1632.5,1072.7" fill="none" stroke="#0a0a0a" stroke-width="2.1" stroke-dasharray="40 4" stroke-dashoffset="0"/>
<path d="M1512.6,879.9C1513.8,879.2 1512.2,878.2 1517.0,877.2C1521.8,876.2 1527.0,876.4 1530.6,876.1" fill="none" stroke="#0a0a0a" stroke-width="2.1" stroke-dasharray="40 4" stroke-dashoffset="0"/>
<path d="M1522.5,889.2 L1526.3,894.2" fill="none" stroke="#0a0a0a" stroke-width="2.1" stroke-dasharray="40 4" stroke-dashoffset="0"/>
<path d="M1544.3,876.1 L1567.9,876.8" fill="none" stroke="#0a0a0a" stroke-width="2.1" stroke-dasharray="40 4" stroke-dashoffset="0"/>
<path d="M1578.4,878.6C1579.1,879.1 1584.7,880.1 1584.0,882.4C1583.3,884.7 1574.4,894.2 1572.9,896.0" fill="none" stroke="#0a0a0a" stroke-width="2.1" stroke-dasharray="40 4" stroke-dashoffset="0"/>
<path d="M1540.6,922.7C1542.6,923.4 1544.0,925.0 1548.0,925.2C1552.0,925.4 1551.8,925.4 1555.5,923.4C1559.2,921.4 1560.0,919.3 1561.7,917.8" fill="none" stroke="#0a0a0a" stroke-width="2.1" stroke-dasharray="40 4" stroke-dashoffset="0"/>
<rect x="1062.3" y="802.7" width="769.4000000000001" height="395.29999999999995" fill="none" stroke="#000" stroke-width="2.2"/>
<text x="1480.5" y="1061" font-size="37.8">10 MPa</text>
<text x="1603.5" y="904" font-size="30.3">5 MPa</text>
<text x="1784" y="839.4" font-size="39">(i)</text>
<defs><clipPath id="clipBII"><polygon points="1066.6,1513.9 1086.6,1511.8 1109.7,1513.9 1128.6,1520.2 1147.6,1528.7 1172.8,1532.2 1202.3,1532.9 1307.5,1531.8 1322.2,1528.7 1370.6,1526.1 1383.2,1523.8 1433.7,1520.9 1477.6,1520.2 1508.7,1510.9 1535.0,1502.0 1553.0,1497.0 1570.8,1501.6 1594.1,1507.8 1632.9,1515.5 1669.0,1518.5 1748.0,1526.7 1787.5,1529.6 1835.0,1530.6 1835.0,1873.3 1066.4,1873.3"/></clipPath><filter id="blBII" x="-20%" y="-20%" width="140%" height="140%"><feGaussianBlur stdDeviation="2.5"/></filter><filter id="blBII2" x="-20%" y="-20%" width="140%" height="140%"><feGaussianBlur stdDeviation="5"/></filter></defs>
<g clip-path="url(#clipBII)">
<rect x="1063.1" y="1480.7" width="773.9000000000001" height="398.70000000000005" fill="#b4ff00"/>
<polygon points="1060.0,1676.6 1066.6,1676.6 1107.6,1674.9 1139.2,1669.6 1181.2,1664.4 1223.3,1658.1 1265.4,1650.7 1297.0,1644.4 1318.0,1642.3 1334.9,1644.4 1360.1,1653.9 1383.2,1666.5 1402.2,1679.1 1423.2,1693.8 1433.7,1703.3 1444.3,1721.2 1447.0,1735.0 1442.2,1740.1 1429.5,1754.8 1412.7,1763.3 1391.7,1773.8 1379.0,1786.4 1372.7,1803.2 1372.7,1820.1 1379.0,1834.8 1391.7,1851.6 1404.3,1862.2 1412.7,1875.5 1412.7,1880.0 1686.8,1880.0 1686.8,1873.0 1688.7,1859.4 1700.6,1847.6 1716.4,1835.7 1726.3,1821.9 1731.2,1806.1 1731.2,1790.3 1724.3,1773.5 1710.5,1763.6 1692.7,1754.7 1674.9,1746.8 1659.1,1739.9 1652.0,1733.0 1667.0,1712.3 1678.9,1697.5 1696.6,1683.6 1712.4,1677.7 1732.2,1675.7 1757.9,1676.1 1777.6,1680.7 1791.4,1682.7 1809.2,1682.7 1826.0,1674.8 1840.0,1670.0 1840.0,1553.7 1830.0,1553.7 1767.7,1554.3 1708.5,1554.3 1684.8,1554.3 1669.0,1557.3 1651.6,1562.9 1631.4,1566.8 1617.4,1568.6 1595.7,1569.6 1583.2,1568.3 1561.5,1563.7 1547.5,1562.6 1536.6,1562.6 1527.3,1565.2 1513.4,1567.5 1477.6,1567.9 1455.9,1567.5 1443.5,1565.2 1421.7,1558.2 1408.5,1556.0 1370.6,1554.1 1307.5,1554.5 1244.4,1555.4 1202.3,1556.0 1181.2,1553.3 1164.4,1542.3 1147.6,1529.3 1147.6,1495.0 1060.0,1495.0" fill="#7df500"/>
<polygon points="1446.0,1727.0 1446.4,1725.4 1440.1,1712.8 1429.5,1693.8 1412.7,1668.6 1395.9,1643.3 1383.2,1624.4 1370.6,1612.8 1349.6,1606.5 1318.0,1606.5 1286.5,1609.7 1244.4,1610.7 1212.8,1607.6 1177.0,1599.1 1143.4,1587.6 1136.0,1582.3 1133.9,1573.9 1139.2,1561.3 1153.9,1554.5 1177.0,1553.9 1244.4,1555.4 1307.5,1554.5 1370.6,1554.1 1387.5,1559.2 1408.5,1573.9 1425.3,1579.2 1444.3,1581.3 1466.8,1582.3 1479.2,1585.4 1488.5,1590.8 1499.4,1597.8 1510.2,1600.9 1517.2,1602.2 1530.4,1593.2 1574.7,1594.7 1584.8,1598.9 1593.3,1597.0 1601.9,1588.5 1623.6,1581.5 1637.6,1580.0 1657.8,1574.5 1670.2,1569.1 1690.7,1559.2 1708.5,1554.3 1767.7,1554.3 1840.0,1553.7 1840.0,1640.6 1826.0,1640.6 1787.5,1640.6 1753.9,1642.2 1732.2,1647.1 1712.4,1656.0 1692.7,1669.8 1676.9,1685.6 1667.0,1701.4 1658.1,1717.2 1651.0,1732.0 1661.1,1741.9 1672.9,1754.7 1684.8,1766.6 1690.7,1782.4 1690.7,1796.2 1684.8,1816.0 1676.9,1835.7 1669.0,1855.5 1665.0,1873.0 1665.0,1880.0 1435.9,1880.0 1435.9,1875.5 1429.5,1860.1 1421.1,1841.1 1410.6,1822.2 1406.4,1803.2 1410.6,1784.3 1421.1,1769.6 1433.7,1754.8 1446.0,1737.0" fill="#50f000"/>
<g filter="url(#blBII)">
<path d="M1444.0,1728.0C1442.4,1718.0 1436.8,1711.6 1432.0,1700.0C1427.2,1688.4 1422.8,1682.0 1420.0,1670.0C1417.2,1658.0 1417.6,1650.8 1418.0,1640.0C1418.4,1629.2 1417.6,1623.0 1422.0,1616.0C1426.4,1609.0 1428.4,1608.0 1440.0,1605.0C1451.6,1602.0 1464.0,1600.6 1480.0,1601.0C1496.0,1601.4 1505.6,1606.2 1520.0,1607.0C1534.4,1607.8 1538.0,1605.6 1552.0,1605.0C1566.0,1604.4 1574.4,1605.4 1590.0,1604.0C1605.6,1602.6 1612.0,1601.0 1630.0,1598.0C1648.0,1595.0 1662.0,1592.8 1680.0,1589.0C1698.0,1585.2 1698.0,1582.2 1720.0,1579.0C1742.0,1575.8 1766.0,1574.8 1790.0,1573.0C1814.0,1571.2 1830.0,1562.2 1840.0,1570.0C1850.0,1577.8 1850.0,1602.4 1840.0,1612.0C1830.0,1621.6 1810.0,1615.2 1790.0,1618.0C1770.0,1620.8 1757.0,1621.6 1740.0,1626.0C1723.0,1630.4 1716.2,1632.4 1705.0,1640.0C1693.8,1647.6 1691.0,1653.2 1684.0,1664.0C1677.0,1674.8 1675.6,1682.0 1670.0,1694.0C1664.4,1706.0 1660.0,1716.0 1656.0,1724.0C1652.0,1732.0 1649.2,1728.8 1650.0,1734.0C1650.8,1739.2 1655.6,1738.8 1660.0,1750.0C1664.4,1761.2 1669.6,1764.0 1672.0,1790.0C1674.4,1816.0 1720.2,1862.0 1672.0,1880.0C1623.8,1898.0 1479.2,1898.0 1431.0,1880.0C1382.8,1862.0 1429.2,1816.0 1431.0,1790.0C1432.8,1764.0 1437.4,1762.4 1440.0,1750.0C1442.6,1737.6 1445.6,1738.0 1444.0,1728.0Z" fill="#28f00a"/>
<ellipse cx="1275" cy="1572" rx="88" ry="8.5" fill="#28f00a"/>
<path d="M1445.0,1730.0C1443.8,1718.0 1439.0,1712.0 1436.0,1700.0C1433.0,1688.0 1431.2,1682.0 1430.0,1670.0C1428.8,1658.0 1428.8,1649.6 1430.0,1640.0C1431.2,1630.4 1430.0,1626.8 1436.0,1622.0C1442.0,1617.2 1436.8,1617.2 1460.0,1616.0C1483.2,1614.8 1516.0,1616.4 1552.0,1616.0C1588.0,1615.6 1612.4,1617.2 1640.0,1614.0C1667.6,1610.8 1672.0,1604.8 1690.0,1600.0C1708.0,1595.2 1710.0,1593.2 1730.0,1590.0C1750.0,1586.8 1768.0,1585.6 1790.0,1584.0C1812.0,1582.4 1830.0,1578.8 1840.0,1582.0C1850.0,1585.2 1850.0,1595.6 1840.0,1600.0C1830.0,1604.4 1810.0,1601.6 1790.0,1604.0C1770.0,1606.4 1758.0,1607.6 1740.0,1612.0C1722.0,1616.4 1712.8,1618.4 1700.0,1626.0C1687.2,1633.6 1683.2,1637.2 1676.0,1650.0C1668.8,1662.8 1668.8,1675.2 1664.0,1690.0C1659.2,1704.8 1655.2,1715.2 1652.0,1724.0C1648.8,1732.8 1647.4,1726.8 1648.0,1734.0C1648.6,1741.2 1652.6,1730.8 1655.0,1760.0C1657.4,1789.2 1703.0,1856.0 1660.0,1880.0C1617.0,1904.0 1483.6,1904.0 1440.0,1880.0C1396.4,1856.0 1441.0,1790.0 1442.0,1760.0C1443.0,1730.0 1446.2,1742.0 1445.0,1730.0Z" fill="#00fa14"/>
<rect x="1441" y="1626" width="213" height="260" fill="#00f53c"/>
<ellipse cx="1828" cy="1569" rx="36" ry="13" fill="#00f573"/>
<ellipse cx="1835" cy="1567" rx="18" ry="8" fill="#00f5dc"/>
</g>
<rect x="1448.9" y="1636.6" width="198" height="245" fill="#00f5aa"/>
<polygon points="1448.9,1750.0 1452.0,1781.0 1459.0,1795.0 1467.0,1810.0 1471.0,1823.0 1478.0,1838.0 1485.0,1855.0 1493.0,1880.0 1448.9,1880.0" fill="#00f573"/>
<polygon points="1646.9,1750.0 1639.0,1779.0 1630.0,1795.0 1622.0,1809.0 1614.0,1824.0 1606.5,1843.0 1598.8,1862.0 1593.0,1880.0 1646.9,1880.0" fill="#00f573"/>
<polygon points="1454.0,1662.0 1458.0,1648.0 1470.0,1641.0 1630.0,1641.0 1640.0,1648.0 1643.0,1662.0 1643.0,1745.0 1639.0,1779.0 1630.0,1795.0 1622.0,1809.0 1614.0,1824.0 1606.5,1843.0 1598.8,1861.7 1593.0,1880.0 1493.2,1880.0 1485.4,1855.5 1477.6,1838.4 1471.4,1822.9 1466.8,1810.4 1459.0,1794.9 1452.8,1780.9 1452.0,1767.0 1453.0,1745.0" fill="#00f5dc"/>
<path d="M1462.1,1709.5C1463.0,1697.9 1462.3,1697.9 1462.6,1692.0C1462.9,1686.1 1462.9,1684.3 1463.7,1680.1C1464.5,1675.9 1464.6,1674.7 1466.8,1670.8C1469.0,1666.9 1470.9,1664.3 1474.5,1660.7C1478.1,1657.1 1480.2,1655.3 1484.6,1653.0C1489.0,1650.7 1489.3,1650.4 1496.3,1649.1C1503.3,1647.8 1507.8,1647.3 1519.6,1646.7C1531.4,1646.1 1543.8,1646.8 1555.3,1646.3C1566.8,1645.8 1570.2,1644.6 1577.0,1644.4C1583.8,1644.2 1582.6,1644.1 1589.4,1645.2C1596.2,1646.3 1604.4,1647.5 1611.2,1649.8C1618.0,1652.1 1619.6,1653.8 1623.6,1656.8C1627.6,1659.8 1628.8,1661.3 1631.4,1664.6C1634.0,1667.9 1635.4,1668.8 1636.8,1673.1C1638.2,1677.4 1638.4,1679.3 1638.4,1686.3C1638.4,1693.3 1636.5,1697.3 1636.8,1708.0C1637.1,1718.7 1637.7,1732.6 1640.0,1740.0C1642.3,1747.4 1647.6,1741.7 1648.4,1745.2C1649.2,1748.7 1646.3,1752.3 1643.8,1757.6C1641.3,1762.9 1639.4,1766.0 1636.0,1771.6C1632.6,1777.2 1630.4,1780.0 1626.7,1785.6C1623.0,1791.2 1621.1,1794.0 1617.4,1799.6C1613.7,1805.2 1612.1,1807.9 1608.1,1813.5C1604.1,1819.1 1602.5,1821.6 1597.2,1827.5C1591.9,1833.4 1588.2,1837.6 1581.7,1843.0C1575.2,1848.4 1570.5,1851.8 1564.6,1854.7C1558.7,1857.6 1557.8,1857.2 1552.2,1857.5C1546.6,1857.8 1542.8,1857.8 1536.6,1856.2C1530.4,1854.6 1527.3,1853.2 1521.1,1849.3C1514.9,1845.4 1511.2,1841.5 1505.6,1836.8C1500.0,1832.1 1497.5,1830.7 1493.2,1826.0C1488.9,1821.3 1487.3,1818.8 1483.9,1813.5C1480.5,1808.2 1479.2,1805.8 1476.1,1799.6C1473.0,1793.4 1471.1,1788.7 1468.3,1782.5C1465.5,1776.3 1464.2,1775.0 1462.1,1768.5C1460.0,1762.0 1458.0,1761.8 1458.0,1750.0C1458.0,1738.2 1461.2,1721.1 1462.1,1709.5Z" fill="#00e6ff"/>
<path d="M1470.0,1745.0C1471.0,1731.6 1469.1,1713.3 1470.0,1700.0C1470.9,1686.7 1471.1,1684.7 1474.5,1678.6C1477.9,1672.5 1480.2,1672.1 1487.0,1669.3C1493.8,1666.5 1499.7,1666.0 1508.7,1664.6C1517.7,1663.2 1519.6,1662.3 1532.0,1662.3C1544.4,1662.3 1560.2,1663.3 1570.8,1664.6C1581.4,1665.9 1578.8,1668.1 1585.0,1669.0C1591.2,1669.9 1595.4,1668.0 1601.9,1669.3C1608.4,1670.6 1612.1,1672.1 1617.4,1675.5C1622.7,1678.9 1625.2,1681.4 1628.3,1686.3C1631.4,1691.2 1631.5,1688.3 1633.0,1700.0C1634.5,1711.7 1636.0,1732.9 1636.0,1745.0C1636.0,1757.1 1636.0,1753.8 1632.9,1760.7C1629.8,1767.6 1625.8,1771.9 1620.5,1779.4C1615.2,1786.9 1611.8,1791.5 1606.5,1798.0C1601.2,1804.5 1598.1,1810.8 1594.1,1812.0C1590.1,1813.2 1592.2,1802.6 1586.3,1804.2C1580.4,1805.8 1570.8,1814.4 1564.6,1819.8C1558.4,1825.2 1561.8,1829.1 1555.3,1831.4C1548.8,1833.7 1539.8,1833.1 1532.0,1831.4C1524.2,1829.7 1524.3,1827.7 1516.5,1822.9C1508.7,1818.1 1501.0,1814.1 1493.2,1807.3C1485.4,1800.5 1483.2,1796.8 1477.6,1788.7C1472.0,1780.6 1466.7,1775.7 1465.2,1767.0C1463.7,1758.3 1469.0,1758.4 1470.0,1745.0Z" fill="#00b4ff"/>
<path d="M1480.0,1745.0C1481.4,1733.5 1478.6,1711.7 1480.0,1700.0C1481.4,1688.3 1482.8,1690.6 1487.0,1686.3C1491.2,1682.0 1493.5,1681.2 1500.9,1678.6C1508.3,1676.0 1513.3,1673.7 1524.2,1673.1C1535.1,1672.5 1545.9,1674.1 1555.3,1675.5C1564.7,1676.9 1563.2,1679.4 1571.0,1680.0C1578.8,1680.6 1585.4,1677.3 1594.1,1678.6C1602.8,1679.9 1608.7,1682.0 1614.3,1686.3C1619.9,1690.6 1618.9,1688.3 1622.0,1700.0C1625.1,1711.7 1628.4,1733.5 1630.0,1745.0C1631.6,1756.5 1632.3,1752.6 1629.8,1757.6C1627.3,1762.6 1623.0,1765.7 1617.4,1770.1C1611.8,1774.5 1608.1,1776.3 1601.9,1779.4C1595.7,1782.5 1591.9,1780.6 1586.3,1785.6C1580.7,1790.6 1580.1,1799.5 1573.9,1804.2C1567.7,1808.9 1563.7,1808.9 1555.3,1808.9C1546.9,1808.9 1541.3,1808.2 1532.0,1804.2C1522.7,1800.2 1517.7,1794.9 1508.7,1788.7C1499.7,1782.5 1494.1,1779.4 1487.0,1773.2C1479.9,1767.0 1474.4,1763.2 1473.0,1757.6C1471.6,1752.0 1478.6,1756.5 1480.0,1745.0Z" fill="#0082ff"/>
<path d="M1497.8,1740.0C1474.4,1732.0 1495.6,1710.1 1497.8,1700.0C1500.0,1689.9 1500.3,1691.8 1508.7,1689.4C1517.1,1687.0 1530.5,1687.3 1539.8,1687.9C1549.1,1688.5 1547.5,1692.2 1555.3,1692.5C1563.1,1692.8 1569.3,1687.9 1578.6,1689.4C1587.9,1690.9 1595.2,1693.9 1601.9,1700.0C1608.6,1706.1 1609.4,1712.0 1612.0,1720.0C1614.6,1728.0 1637.8,1736.0 1615.0,1740.0C1592.2,1744.0 1521.2,1748.0 1497.8,1740.0Z" fill="#0a41ff"/>
<path d="M1498.0,1750.0C1472.2,1751.8 1497.6,1755.4 1501.0,1759.0C1504.4,1762.6 1507.2,1765.2 1515.0,1768.0C1522.8,1770.8 1529.4,1772.0 1540.0,1773.0C1550.6,1774.0 1561.8,1769.6 1568.0,1773.0C1574.2,1776.4 1569.0,1784.6 1571.0,1790.0C1573.0,1795.4 1575.0,1800.0 1578.0,1800.0C1581.0,1800.0 1583.6,1795.0 1586.0,1790.0C1588.4,1785.0 1584.2,1779.4 1590.0,1775.0C1595.8,1770.6 1607.0,1771.6 1615.0,1768.0C1623.0,1764.4 1627.0,1760.6 1630.0,1757.0C1633.0,1753.4 1656.4,1751.4 1630.0,1750.0C1603.6,1748.6 1523.8,1748.2 1498.0,1750.0Z" fill="#0a41ff"/>
<ellipse cx="1578" cy="1703" rx="17" ry="4.5" fill="#0828ff"/>
<path d="M1446.4,1729.6C1443.9,1721.0 1439.8,1711.4 1429.5,1703.3C1419.2,1695.2 1415.9,1698.1 1402.2,1694.9C1388.5,1691.7 1383.9,1690.7 1370.6,1689.6C1357.3,1688.5 1354.7,1688.0 1345.4,1690.0C1336.1,1692.0 1335.8,1693.2 1330.6,1698.0C1325.4,1702.8 1324.3,1705.3 1323.3,1710.7C1322.3,1716.1 1323.2,1716.3 1326.4,1721.2C1329.6,1726.1 1329.1,1726.8 1337.0,1731.7C1344.9,1736.6 1347.3,1738.5 1360.1,1742.2C1372.9,1745.9 1377.0,1746.5 1391.7,1747.5C1406.4,1748.5 1411.9,1748.1 1423.2,1746.4C1434.5,1744.7 1434.7,1744.0 1440.1,1740.1C1445.5,1736.2 1448.9,1738.2 1446.4,1729.6Z" fill="#f0ff14"/>
<path d="M1653.2,1732.0C1655.5,1726.7 1661.6,1721.0 1669.0,1714.3C1676.4,1707.6 1677.0,1708.0 1684.8,1703.4C1692.6,1698.8 1696.2,1695.4 1702.6,1694.5C1709.0,1693.6 1708.3,1695.5 1712.4,1699.4C1716.5,1703.3 1718.2,1705.3 1720.3,1711.3C1722.4,1717.3 1722.7,1720.0 1721.3,1725.1C1719.9,1730.2 1719.2,1729.5 1714.4,1733.0C1709.6,1736.5 1707.5,1737.7 1700.6,1739.9C1693.7,1742.1 1692.2,1742.5 1684.8,1742.5C1677.4,1742.5 1675.0,1741.2 1669.0,1739.9C1663.0,1738.6 1662.7,1738.8 1659.0,1737.0C1655.3,1735.2 1650.9,1737.3 1653.2,1732.0Z" fill="#f0ff14"/>
<g filter="url(#blBII)">
<ellipse cx="1420" cy="1727" rx="27" ry="14" fill="#ffd414"/>
<ellipse cx="1434" cy="1728.5" rx="13" ry="7" fill="#ffa519"/>
<ellipse cx="1684" cy="1723" rx="24" ry="10" fill="#ffd414" transform="rotate(-24 1684 1723)"/>
<ellipse cx="1668" cy="1727" rx="13" ry="5.5" fill="#ffa519" transform="rotate(-24 1668 1727)"/>
<ellipse cx="1655" cy="1731.5" rx="4" ry="2.5" fill="#ff3010"/>
</g>
<ellipse cx="1341" cy="1877" rx="44" ry="13" fill="#f0ff14" filter="url(#blBII)"/>
<ellipse cx="1748" cy="1877" rx="38" ry="13" fill="#f0ff14" filter="url(#blBII)"/>
<ellipse cx="1552.6" cy="1589" rx="30" ry="18" fill="#28f00a" filter="url(#blBII)"/>
<ellipse cx="1519" cy="1590" rx="6" ry="4" fill="#b4ff00"/>
<ellipse cx="1584" cy="1591" rx="5" ry="3.5" fill="#b4ff00"/>
<rect x="1112.4" y="1480.7" width="1" height="395.70000000000005" fill="#fff" opacity="0.15"/>
<rect x="1256.1" y="1480.7" width="1" height="395.70000000000005" fill="#fff" opacity="0.15"/>
<rect x="1399.1" y="1480.7" width="1" height="395.70000000000005" fill="#fff" opacity="0.15"/>
<rect x="1542.1" y="1480.7" width="1" height="395.70000000000005" fill="#fff" opacity="0.15"/>
<rect x="1685.2" y="1480.7" width="1" height="395.70000000000005" fill="#fff" opacity="0.15"/>
<rect x="1063.1" y="1606.5" width="769.4000000000001" height="1" fill="#fff" opacity="0.15"/>
<rect x="1063.1" y="1752.0" width="769.4000000000001" height="1" fill="#fff" opacity="0.15"/>
</g>
<path d="M1448.9,1742.1 C1466,1722 1500,1705.6 1547.5,1705.6 C1596,1705.6 1632,1716 1650,1732 C1643,1744 1634,1754 1618,1756 L1560,1757 L1478,1755.5 C1465,1754 1455,1749 1448.9,1742.1Z" fill="#fff"/>
<ellipse cx="1552.6" cy="1588.3" rx="23" ry="12.6" fill="#fff"/>
<path d="M1147.6,1529.3C1151.5,1532.3 1156.6,1536.7 1164.4,1542.3C1172.2,1547.9 1172.4,1550.1 1181.2,1553.3C1190.0,1556.5 1187.6,1555.5 1202.3,1556.0C1217.0,1556.5 1219.9,1555.8 1244.4,1555.4C1268.9,1555.1 1278.1,1554.8 1307.5,1554.5C1336.9,1554.2 1347.0,1553.8 1370.6,1554.1C1394.2,1554.4 1396.6,1555.0 1408.5,1556.0C1420.4,1557.0 1413.5,1556.1 1421.7,1558.2C1429.9,1560.3 1435.5,1563.0 1443.5,1565.2C1451.5,1567.4 1447.9,1566.9 1455.9,1567.5C1463.9,1568.1 1464.2,1567.9 1477.6,1567.9C1491.0,1567.9 1501.8,1568.1 1513.4,1567.5C1525.0,1566.9 1521.9,1566.3 1527.3,1565.2C1532.7,1564.1 1531.9,1563.2 1536.6,1562.6C1541.3,1562.0 1541.7,1562.3 1547.5,1562.6C1553.3,1562.9 1553.2,1562.4 1561.5,1563.7C1569.8,1565.0 1575.2,1566.9 1583.2,1568.3C1591.2,1569.7 1587.7,1569.5 1595.7,1569.6C1603.7,1569.7 1609.1,1569.3 1617.4,1568.6C1625.7,1567.9 1623.4,1568.1 1631.4,1566.8C1639.4,1565.5 1642.8,1565.1 1651.6,1562.9C1660.4,1560.7 1661.3,1559.3 1669.0,1557.3C1676.7,1555.3 1675.6,1555.0 1684.8,1554.3C1694.0,1553.6 1689.2,1554.3 1708.5,1554.3C1727.8,1554.3 1739.4,1554.4 1767.7,1554.3C1796.0,1554.2 1815.5,1553.8 1830.0,1553.7" fill="none" stroke="#0a0a0a" stroke-width="2.1" stroke-dasharray="23 11.5" stroke-dashoffset="0"/>
<path d="M1177.0,1553.9C1171.6,1554.0 1162.7,1552.8 1153.9,1554.5C1145.1,1556.2 1143.9,1556.8 1139.2,1561.3C1134.5,1565.8 1134.6,1569.0 1133.9,1573.9C1133.2,1578.8 1133.8,1579.1 1136.0,1582.3C1138.2,1585.5 1133.8,1583.7 1143.4,1587.6C1153.0,1591.5 1160.8,1594.4 1177.0,1599.1C1193.2,1603.8 1197.1,1604.9 1212.8,1607.6C1228.5,1610.3 1227.2,1610.2 1244.4,1610.7C1261.6,1611.2 1269.3,1610.7 1286.5,1609.7C1303.7,1608.7 1303.3,1607.2 1318.0,1606.5C1332.7,1605.8 1337.3,1605.0 1349.6,1606.5C1361.9,1608.0 1362.8,1608.6 1370.6,1612.8C1378.4,1617.0 1377.3,1617.3 1383.2,1624.4C1389.1,1631.5 1389.0,1633.0 1395.9,1643.3C1402.8,1653.6 1404.9,1656.8 1412.7,1668.6C1420.5,1680.4 1423.1,1683.5 1429.5,1693.8C1435.9,1704.1 1436.2,1705.4 1440.1,1712.8C1444.0,1720.2 1444.9,1722.5 1446.4,1725.4" fill="none" stroke="#0a0a0a" stroke-width="2.1" stroke-dasharray="23 11.5" stroke-dashoffset="0"/>
<path d="M1387.5,1559.2C1392.4,1562.6 1399.7,1569.2 1408.5,1573.9C1417.3,1578.6 1416.9,1577.5 1425.3,1579.2C1433.7,1580.9 1434.6,1580.6 1444.3,1581.3C1454.0,1582.0 1458.7,1581.3 1466.8,1582.3C1474.9,1583.3 1474.1,1583.4 1479.2,1585.4C1484.3,1587.4 1483.8,1587.9 1488.5,1590.8C1493.2,1593.7 1494.3,1595.4 1499.4,1597.8C1504.5,1600.2 1506.0,1599.9 1510.2,1600.9C1514.4,1601.9 1512.5,1604.0 1517.2,1602.2C1521.9,1600.4 1527.3,1595.3 1530.4,1593.2" fill="none" stroke="#0a0a0a" stroke-width="2.1" stroke-dasharray="23 11.5" stroke-dashoffset="0"/>
<path d="M1574.7,1594.7C1577.1,1595.7 1580.5,1598.4 1584.8,1598.9C1589.1,1599.4 1589.3,1599.4 1593.3,1597.0C1597.3,1594.6 1594.8,1592.1 1601.9,1588.5C1609.0,1584.9 1615.3,1583.5 1623.6,1581.5C1631.9,1579.5 1629.6,1581.6 1637.6,1580.0C1645.6,1578.4 1650.2,1577.0 1657.8,1574.5C1665.4,1572.0 1662.5,1572.7 1670.2,1569.1C1677.9,1565.5 1685.9,1561.5 1690.7,1559.2" fill="none" stroke="#0a0a0a" stroke-width="2.1" stroke-dasharray="23 11.5" stroke-dashoffset="0"/>
<path d="M1066.6,1676.6C1076.2,1676.2 1090.7,1676.5 1107.6,1674.9C1124.5,1673.3 1122.0,1672.0 1139.2,1669.6C1156.4,1667.1 1161.6,1667.1 1181.2,1664.4C1200.8,1661.7 1203.7,1661.3 1223.3,1658.1C1242.9,1654.9 1248.2,1653.9 1265.4,1650.7C1282.6,1647.5 1284.7,1646.4 1297.0,1644.4C1309.3,1642.4 1309.2,1642.3 1318.0,1642.3C1326.8,1642.3 1325.1,1641.7 1334.9,1644.4C1344.7,1647.1 1348.8,1648.7 1360.1,1653.9C1371.4,1659.1 1373.4,1660.6 1383.2,1666.5C1393.0,1672.4 1392.9,1672.7 1402.2,1679.1C1411.5,1685.5 1415.9,1688.2 1423.2,1693.8C1430.5,1699.4 1428.8,1696.9 1433.7,1703.3C1438.6,1709.7 1441.8,1717.0 1444.3,1721.2" fill="none" stroke="#0a0a0a" stroke-width="2.1" stroke-dasharray="23 11.5" stroke-dashoffset="0"/>
<path d="M1442.2,1740.1C1439.2,1743.5 1436.4,1749.4 1429.5,1754.8C1422.6,1760.2 1421.5,1758.9 1412.7,1763.3C1403.9,1767.7 1399.6,1768.4 1391.7,1773.8C1383.8,1779.2 1383.4,1779.5 1379.0,1786.4C1374.6,1793.3 1374.2,1795.3 1372.7,1803.2C1371.2,1811.1 1371.2,1812.7 1372.7,1820.1C1374.2,1827.5 1374.6,1827.5 1379.0,1834.8C1383.4,1842.1 1385.8,1845.2 1391.7,1851.6C1397.6,1858.0 1399.4,1856.6 1404.3,1862.2C1409.2,1867.8 1410.7,1872.4 1412.7,1875.5" fill="none" stroke="#0a0a0a" stroke-width="2.1" stroke-dasharray="23 11.5" stroke-dashoffset="0"/>
<path d="M1433.7,1754.8C1430.8,1758.3 1426.5,1762.7 1421.1,1769.6C1415.7,1776.5 1414.0,1776.5 1410.6,1784.3C1407.2,1792.1 1406.4,1794.4 1406.4,1803.2C1406.4,1812.0 1407.2,1813.4 1410.6,1822.2C1414.0,1831.0 1416.7,1832.3 1421.1,1841.1C1425.5,1849.9 1426.0,1852.1 1429.5,1860.1C1433.0,1868.1 1434.4,1871.9 1435.9,1875.5" fill="none" stroke="#0a0a0a" stroke-width="2.1" stroke-dasharray="23 11.5" stroke-dashoffset="0"/>
<path d="M1448.1,1756.1C1448.3,1758.6 1447.8,1761.2 1448.9,1767.0C1450.0,1772.8 1450.4,1774.4 1452.8,1780.9C1455.2,1787.4 1455.7,1788.0 1459.0,1794.9C1462.3,1801.8 1463.9,1803.9 1466.8,1810.4C1469.7,1816.9 1468.9,1816.4 1471.4,1822.9C1473.9,1829.4 1474.3,1830.8 1477.6,1838.4C1480.9,1846.0 1481.8,1847.0 1485.4,1855.5C1489.0,1864.0 1491.4,1870.5 1493.2,1875.0" fill="none" stroke="#0a0a0a" stroke-width="2.1" stroke-dasharray="23 11.5" stroke-dashoffset="0"/>
<path d="M1639.1,1779.4C1636.9,1783.0 1633.8,1788.0 1629.8,1794.9C1625.8,1801.8 1625.6,1802.0 1622.0,1808.9C1618.4,1815.8 1617.9,1816.4 1614.3,1824.4C1610.7,1832.4 1610.1,1834.3 1606.5,1843.0C1602.9,1851.7 1600.6,1857.3 1598.8,1861.7" fill="none" stroke="#0a0a0a" stroke-width="2.1" stroke-dasharray="23 11.5" stroke-dashoffset="0"/>
<path d="M1462.1,1768.5C1463.5,1771.8 1465.0,1775.2 1468.3,1782.5C1471.6,1789.8 1472.5,1792.4 1476.1,1799.6C1479.7,1806.8 1479.9,1807.3 1483.9,1813.5C1487.9,1819.7 1488.1,1820.6 1493.2,1826.0C1498.3,1831.4 1499.1,1831.4 1505.6,1836.8C1512.1,1842.2 1513.9,1844.8 1521.1,1849.3C1528.3,1853.8 1529.3,1854.3 1536.6,1856.2C1543.9,1858.1 1545.7,1857.8 1552.2,1857.5C1558.7,1857.2 1557.7,1858.1 1564.6,1854.7C1571.5,1851.3 1574.1,1849.3 1581.7,1843.0C1589.3,1836.7 1591.0,1834.4 1597.2,1827.5C1603.4,1820.6 1603.4,1820.0 1608.1,1813.5C1612.8,1807.0 1613.1,1806.1 1617.4,1799.6C1621.7,1793.1 1622.4,1792.1 1626.7,1785.6C1631.0,1779.1 1632.0,1778.1 1636.0,1771.6C1640.0,1765.1 1640.9,1763.8 1643.8,1757.6C1646.7,1751.4 1647.3,1748.1 1648.4,1745.2" fill="none" stroke="#0a0a0a" stroke-width="2.1" stroke-dasharray="23 11.5" stroke-dashoffset="0"/>
<path d="M1462.1,1709.5C1462.2,1705.4 1462.2,1698.9 1462.6,1692.0C1463.0,1685.1 1462.7,1685.0 1463.7,1680.1C1464.7,1675.2 1464.3,1675.3 1466.8,1670.8C1469.3,1666.3 1470.3,1664.9 1474.5,1660.7C1478.7,1656.5 1479.5,1655.7 1484.6,1653.0C1489.7,1650.3 1488.1,1650.6 1496.3,1649.1C1504.5,1647.6 1505.8,1647.4 1519.6,1646.7C1533.4,1646.0 1541.9,1646.8 1555.3,1646.3C1568.7,1645.8 1569.0,1644.7 1577.0,1644.4C1585.0,1644.1 1581.4,1643.9 1589.4,1645.2C1597.4,1646.5 1603.2,1647.1 1611.2,1649.8C1619.2,1652.5 1618.9,1653.3 1623.6,1656.8C1628.3,1660.3 1628.3,1660.8 1631.4,1664.6C1634.5,1668.4 1635.2,1668.0 1636.8,1673.1C1638.4,1678.2 1638.4,1678.2 1638.4,1686.3C1638.4,1694.4 1637.2,1702.9 1636.8,1708.0" fill="none" stroke="#0a0a0a" stroke-width="2.1" stroke-dasharray="23 11.5" stroke-dashoffset="0"/>
<path d="M1658.1,1717.2C1660.2,1713.5 1662.6,1708.8 1667.0,1701.4C1671.4,1694.0 1670.9,1693.0 1676.9,1685.6C1682.9,1678.2 1684.4,1676.7 1692.7,1669.8C1701.0,1662.9 1703.2,1661.3 1712.4,1656.0C1721.6,1650.7 1722.5,1650.3 1732.2,1647.1C1741.9,1643.9 1741.0,1643.7 1753.9,1642.2C1766.8,1640.7 1770.7,1641.0 1787.5,1640.6C1804.3,1640.2 1817.0,1640.6 1826.0,1640.6" fill="none" stroke="#0a0a0a" stroke-width="2.1" stroke-dasharray="23 11.5" stroke-dashoffset="0"/>
<path d="M1667.0,1712.3C1669.8,1708.8 1672.0,1704.2 1678.9,1697.5C1685.8,1690.8 1688.8,1688.2 1696.6,1683.6C1704.4,1679.0 1704.1,1679.5 1712.4,1677.7C1720.7,1675.9 1721.6,1676.1 1732.2,1675.7C1742.8,1675.3 1747.3,1674.9 1757.9,1676.1C1768.5,1677.3 1769.8,1679.2 1777.6,1680.7C1785.4,1682.2 1784.0,1682.2 1791.4,1682.7C1798.8,1683.2 1801.1,1684.5 1809.2,1682.7C1817.3,1680.9 1822.1,1676.6 1826.0,1674.8" fill="none" stroke="#0a0a0a" stroke-width="2.1" stroke-dasharray="23 11.5" stroke-dashoffset="0"/>
<path d="M1659.1,1739.9C1662.8,1741.5 1667.1,1743.3 1674.9,1746.8C1682.7,1750.3 1684.4,1750.8 1692.7,1754.7C1701.0,1758.6 1703.1,1759.2 1710.5,1763.6C1717.9,1768.0 1719.5,1767.3 1724.3,1773.5C1729.1,1779.7 1729.6,1782.7 1731.2,1790.3C1732.8,1797.9 1732.3,1798.7 1731.2,1806.1C1730.1,1813.5 1729.8,1815.0 1726.3,1821.9C1722.8,1828.8 1722.4,1829.7 1716.4,1835.7C1710.4,1841.7 1707.1,1842.1 1700.6,1847.6C1694.1,1853.1 1691.9,1853.5 1688.7,1859.4C1685.5,1865.3 1687.2,1869.8 1686.8,1873.0" fill="none" stroke="#0a0a0a" stroke-width="2.1" stroke-dasharray="23 11.5" stroke-dashoffset="0"/>
<path d="M1661.1,1741.9C1663.9,1744.9 1667.4,1748.9 1672.9,1754.7C1678.4,1760.5 1680.6,1760.1 1684.8,1766.6C1689.0,1773.1 1689.3,1775.5 1690.7,1782.4C1692.1,1789.3 1692.1,1788.4 1690.7,1796.2C1689.3,1804.0 1688.0,1806.8 1684.8,1816.0C1681.6,1825.2 1680.6,1826.5 1676.9,1835.7C1673.2,1844.9 1671.8,1846.8 1669.0,1855.5C1666.2,1864.2 1665.9,1868.9 1665.0,1873.0" fill="none" stroke="#0a0a0a" stroke-width="2.1" stroke-dasharray="23 11.5" stroke-dashoffset="0"/>
<path d="M1429.5,1703.3C1423.1,1701.3 1415.9,1698.1 1402.2,1694.9C1388.5,1691.7 1383.9,1690.7 1370.6,1689.6C1357.3,1688.5 1354.7,1688.0 1345.4,1690.0C1336.1,1692.0 1335.8,1693.2 1330.6,1698.0C1325.4,1702.8 1324.3,1705.3 1323.3,1710.7C1322.3,1716.1 1323.2,1716.3 1326.4,1721.2C1329.6,1726.1 1329.1,1726.8 1337.0,1731.7C1344.9,1736.6 1347.3,1738.5 1360.1,1742.2C1372.9,1745.9 1377.0,1746.5 1391.7,1747.5C1406.4,1748.5 1411.9,1748.1 1423.2,1746.4C1434.5,1744.7 1436.2,1741.6 1440.1,1740.1" fill="none" stroke="#0a0a0a" stroke-width="2.1" stroke-dasharray="23 11.5" stroke-dashoffset="0"/>
<path d="M1669.0,1714.3C1672.7,1711.8 1677.0,1708.0 1684.8,1703.4C1692.6,1698.8 1696.2,1695.4 1702.6,1694.5C1709.0,1693.6 1708.3,1695.5 1712.4,1699.4C1716.5,1703.3 1718.2,1705.3 1720.3,1711.3C1722.4,1717.3 1722.7,1720.0 1721.3,1725.1C1719.9,1730.2 1719.2,1729.5 1714.4,1733.0C1709.6,1736.5 1707.5,1737.7 1700.6,1739.9C1693.7,1742.1 1692.2,1742.5 1684.8,1742.5C1677.4,1742.5 1675.0,1741.2 1669.0,1739.9C1663.0,1738.6 1661.3,1737.7 1659.0,1737.0" fill="none" stroke="#0a0a0a" stroke-width="2.1" stroke-dasharray="23 11.5" stroke-dashoffset="0"/>
<rect x="1063.1" y="1480.7" width="769.4000000000001" height="395.70000000000005" fill="none" stroke="#000" stroke-width="2"/>
<text x="1480.5" y="1744" font-size="37.8">10 MPa</text>
<text x="1502" y="1557.5" font-size="30.3">5 MPa</text>
<text x="1779.5" y="1525.5" font-size="40.5">(ii)</text>
<text transform="translate(39.3,724.9) scale(1,1.04)" font-size="38.5" font-weight="bold" letter-spacing="-1.75" word-spacing="2.8">Principal Stress</text><text x="317.5" y="724.9" font-size="38.5" font-weight="bold">σ</text><text x="343.5" y="732.1999999999999" font-size="23" font-weight="bold">3</text>
<text transform="translate(1081.8,726.6) scale(1,1.04)" font-size="38.5" font-weight="bold" letter-spacing="-1.75" word-spacing="2.8">Principal Stress</text><text x="1359.5" y="726.6" font-size="38.5" font-weight="bold">σ</text><text x="1386" y="733.9" font-size="23" font-weight="bold">3</text>
<text transform="translate(31.3,1410.6) scale(1,1.04)" font-size="38.5" font-weight="bold" letter-spacing="-1.5" word-spacing="1.5">Principal Stress</text><text x="312.3" y="1410.6" font-size="38.5" font-weight="bold">σ</text><text x="339.3" y="1418.3999999999999" font-size="23" font-weight="bold">1</text>
<text transform="translate(1073.8,1408.9) scale(1,1.04)" font-size="38.5" font-weight="bold" letter-spacing="-1.5" word-spacing="0.8">Principal Stress</text><text x="1354.3" y="1408.9" font-size="38.5" font-weight="bold">σ</text><text x="1381" y="1414.5" font-size="23" font-weight="bold">1</text>
<text x="804" y="726.7" font-size="38"><tspan dy="-5.5">σ</tspan><tspan dy="5.5" dx="1"> (Pa x 10</tspan><tspan dy="-15.5" dx="1.5" font-size="28.5">8</tspan><tspan dy="15.5" dx="2.5" font-size="38">)</tspan></text>
<text x="1844" y="726.7" font-size="38"><tspan dy="-5.5">σ</tspan><tspan dy="5.5" dx="1"> (Pa x 10</tspan><tspan dy="-15.5" dx="1.5" font-size="28.5">8</tspan><tspan dy="15.5" dx="2.5" font-size="38">)</tspan></text>
<text x="804" y="1411" font-size="38"><tspan dy="-5.5">σ</tspan><tspan dy="5.5" dx="1"> (Pa x 10</tspan><tspan dy="-15.5" dx="1.5" font-size="28.5">8</tspan><tspan dy="15.5" dx="2.5" font-size="38">)</tspan></text>
<text x="1844" y="1411" font-size="38"><tspan dy="-5.5">σ</tspan><tspan dy="5.5" dx="1"> (Pa x 10</tspan><tspan dy="-15.5" dx="1.5" font-size="28.5">8</tspan><tspan dy="15.5" dx="2.5" font-size="38">)</tspan></text>
<rect x="841" y="805.3" width="21.299999999999955" height="34.1" fill="#00f53c"/>
<rect x="841" y="839.1" width="21.299999999999955" height="35.8" fill="#00f573"/>
<rect x="841" y="874.6" width="21.299999999999955" height="35.4" fill="#00f5aa"/>
<rect x="841" y="909.7" width="21.299999999999955" height="34.4" fill="#00f5dc"/>
<rect x="841" y="943.8" width="21.299999999999955" height="35.8" fill="#00e6ff"/>
<rect x="841" y="979.3" width="21.299999999999955" height="35.3" fill="#00b4ff"/>
<rect x="841" y="1014.3" width="21.299999999999955" height="34.8" fill="#0082ff"/>
<rect x="841" y="1048.8" width="21.299999999999955" height="34.8" fill="#0a41ff"/>
<rect x="841" y="838.3" width="21.299999999999955" height="1.6" fill="#d8e8d8" opacity="0.55"/>
<rect x="841" y="873.8" width="21.299999999999955" height="1.6" fill="#d8e8d8" opacity="0.55"/>
<rect x="841" y="908.9" width="21.299999999999955" height="1.6" fill="#d8e8d8" opacity="0.55"/>
<rect x="841" y="943.0" width="21.299999999999955" height="1.6" fill="#d8e8d8" opacity="0.55"/>
<rect x="841" y="978.5" width="21.299999999999955" height="1.6" fill="#d8e8d8" opacity="0.55"/>
<rect x="841" y="1013.5" width="21.299999999999955" height="1.6" fill="#d8e8d8" opacity="0.55"/>
<rect x="841" y="1048.0" width="21.299999999999955" height="1.6" fill="#d8e8d8" opacity="0.55"/>
<text x="923" y="813.4" font-size="27" letter-spacing="-0.5" text-anchor="end">-3.2</text>
<text x="923" y="846.4" font-size="27" letter-spacing="-0.5" text-anchor="end">-2.4</text>
<text x="923" y="881.9" font-size="27" letter-spacing="-0.5" text-anchor="end">-1.5</text>
<text x="923" y="917.3" font-size="27" letter-spacing="-0.5" text-anchor="end">-0.7</text>
<text x="923" y="951.1" font-size="27" letter-spacing="-0.5" text-anchor="end">0.2</text>
<text x="923" y="986.6" font-size="27" letter-spacing="-0.5" text-anchor="end">1.0</text>
<text x="923" y="1022.5" font-size="27" letter-spacing="-0.5" text-anchor="end">1.9</text>
<text x="923" y="1058.1" font-size="27" letter-spacing="-0.5" text-anchor="end">2.7</text>
<text x="923" y="1090.7" font-size="27" letter-spacing="-0.5" text-anchor="end">3.6</text>
<rect x="1880" y="764.2" width="22.5" height="34.8" fill="#ff8000"/>
<rect x="1880" y="798.7" width="22.5" height="34.8" fill="#ffa519"/>
<rect x="1880" y="833.1" width="22.5" height="34.8" fill="#ffd414"/>
<rect x="1880" y="867.6" width="22.5" height="34.8" fill="#f0ff14"/>
<rect x="1880" y="902.1" width="22.5" height="34.8" fill="#b4ff00"/>
<rect x="1880" y="936.6" width="22.5" height="34.8" fill="#7df500"/>
<rect x="1880" y="971.0" width="22.5" height="34.8" fill="#50f000"/>
<rect x="1880" y="1005.5" width="22.5" height="34.8" fill="#28f00a"/>
<rect x="1880" y="1040.0" width="22.5" height="34.8" fill="#00fa14"/>
<rect x="1880" y="1074.4" width="22.5" height="34.8" fill="#00f53c"/>
<rect x="1880" y="1108.9" width="22.5" height="34.8" fill="#00f573"/>
<rect x="1880" y="1143.4" width="22.5" height="34.8" fill="#00f5aa"/>
<rect x="1880" y="1177.8" width="22.5" height="34.8" fill="#00f5dc"/>
<rect x="1880" y="1212.3" width="22.5" height="34.8" fill="#00e6ff"/>
<rect x="1880" y="1246.8" width="22.5" height="34.8" fill="#00b4ff"/>
<rect x="1880" y="1281.2" width="22.5" height="34.8" fill="#0082ff"/>
<rect x="1880" y="1315.7" width="22.5" height="34.8" fill="#0a41ff"/>
<rect x="1880" y="797.9" width="22.5" height="1.6" fill="#d8e8d8" opacity="0.55"/>
<rect x="1880" y="832.3" width="22.5" height="1.6" fill="#d8e8d8" opacity="0.55"/>
<rect x="1880" y="866.8" width="22.5" height="1.6" fill="#d8e8d8" opacity="0.55"/>
<rect x="1880" y="901.3" width="22.5" height="1.6" fill="#d8e8d8" opacity="0.55"/>
<rect x="1880" y="935.8" width="22.5" height="1.6" fill="#d8e8d8" opacity="0.55"/>
<rect x="1880" y="970.2" width="22.5" height="1.6" fill="#d8e8d8" opacity="0.55"/>
<rect x="1880" y="1004.7" width="22.5" height="1.6" fill="#d8e8d8" opacity="0.55"/>
<rect x="1880" y="1039.2" width="22.5" height="1.6" fill="#d8e8d8" opacity="0.55"/>
<rect x="1880" y="1073.6" width="22.5" height="1.6" fill="#d8e8d8" opacity="0.55"/>
<rect x="1880" y="1108.1" width="22.5" height="1.6" fill="#d8e8d8" opacity="0.55"/>
<rect x="1880" y="1142.6" width="22.5" height="1.6" fill="#d8e8d8" opacity="0.55"/>
<rect x="1880" y="1177.0" width="22.5" height="1.6" fill="#d8e8d8" opacity="0.55"/>
<rect x="1880" y="1211.5" width="22.5" height="1.6" fill="#d8e8d8" opacity="0.55"/>
<rect x="1880" y="1246.0" width="22.5" height="1.6" fill="#d8e8d8" opacity="0.55"/>
<rect x="1880" y="1280.5" width="22.5" height="1.6" fill="#d8e8d8" opacity="0.55"/>
<rect x="1880" y="1314.9" width="22.5" height="1.6" fill="#d8e8d8" opacity="0.55"/>
<text x="1958.6" y="770.2" font-size="27" letter-spacing="-0.5" text-anchor="end">-18</text>
<text x="1958.6" y="803.2" font-size="27" letter-spacing="-0.5" text-anchor="end">-17</text>
<text x="1958.6" y="838.6" font-size="27" letter-spacing="-0.5" text-anchor="end">-16</text>
<text x="1958.6" y="874.8" font-size="27" letter-spacing="-0.5" text-anchor="end">-15</text>
<text x="1958.6" y="911.1" font-size="27" letter-spacing="-0.5" text-anchor="end">-13</text>
<text x="1958.6" y="944.1" font-size="27" letter-spacing="-0.5" text-anchor="end">-12</text>
<text x="1958.6" y="978.7" font-size="27" letter-spacing="-0.5" text-anchor="end">-11</text>
<text x="1958.6" y="1014.1" font-size="27" letter-spacing="-0.5" text-anchor="end">-10</text>
<text x="1958.6" y="1047.9" font-size="27" letter-spacing="-0.5" text-anchor="end">-9</text>
<text x="1958.6" y="1079.0" font-size="27" letter-spacing="-0.5" text-anchor="end">-8</text>
<text x="1958.6" y="1112.8" font-size="27" letter-spacing="-0.5" text-anchor="end">-7</text>
<text x="1958.6" y="1147.5" font-size="27" letter-spacing="-0.5" text-anchor="end">-5</text>
<text x="1958.6" y="1182.9" font-size="27" letter-spacing="-0.5" text-anchor="end">-4</text>
<text x="1958.6" y="1218.3" font-size="27" letter-spacing="-0.5" text-anchor="end">-3</text>
<text x="1958.6" y="1253.7" font-size="27" letter-spacing="-0.5" text-anchor="end">-2</text>
<text x="1958.6" y="1289.5" font-size="27" letter-spacing="-0.5" text-anchor="end">-1</text>
<text x="1958.6" y="1326.2" font-size="27" letter-spacing="-0.5" text-anchor="end">0</text>
<text x="1958.6" y="1356.2" font-size="27" letter-spacing="-0.5" text-anchor="end">1</text>
<rect x="841" y="1446.1" width="23" height="34.8" fill="#ff8000"/>
<rect x="841" y="1480.6" width="23" height="34.8" fill="#ffa519"/>
<rect x="841" y="1515.2" width="23" height="34.9" fill="#ffd414"/>
<rect x="841" y="1549.8" width="23" height="34.8" fill="#f0ff14"/>
<rect x="841" y="1584.3" width="23" height="34.8" fill="#b4ff00"/>
<rect x="841" y="1618.8" width="23" height="34.8" fill="#7df500"/>
<rect x="841" y="1653.4" width="23" height="34.8" fill="#50f000"/>
<rect x="841" y="1687.9" width="23" height="34.9" fill="#28f00a"/>
<rect x="841" y="1722.5" width="23" height="34.8" fill="#00fa14"/>
<rect x="841" y="1757.0" width="23" height="34.8" fill="#00f53c"/>
<rect x="841" y="1791.6" width="23" height="34.8" fill="#00f573"/>
<rect x="841" y="1826.1" width="23" height="34.8" fill="#00f5aa"/>
<rect x="841" y="1860.7" width="23" height="34.9" fill="#00f5dc"/>
<rect x="841" y="1895.2" width="23" height="34.8" fill="#00e6ff"/>
<rect x="841" y="1929.8" width="23" height="34.9" fill="#00b4ff"/>
<rect x="841" y="1964.3" width="23" height="33.7" fill="#0082ff"/>
<rect x="841" y="1479.8" width="23" height="1.6" fill="#d8e8d8" opacity="0.55"/>
<rect x="841" y="1514.4" width="23" height="1.6" fill="#d8e8d8" opacity="0.55"/>
<rect x="841" y="1549.0" width="23" height="1.6" fill="#d8e8d8" opacity="0.55"/>
<rect x="841" y="1583.5" width="23" height="1.6" fill="#d8e8d8" opacity="0.55"/>
<rect x="841" y="1618.0" width="23" height="1.6" fill="#d8e8d8" opacity="0.55"/>
<rect x="841" y="1652.6" width="23" height="1.6" fill="#d8e8d8" opacity="0.55"/>
<rect x="841" y="1687.1" width="23" height="1.6" fill="#d8e8d8" opacity="0.55"/>
<rect x="841" y="1721.7" width="23" height="1.6" fill="#d8e8d8" opacity="0.55"/>
<rect x="841" y="1756.2" width="23" height="1.6" fill="#d8e8d8" opacity="0.55"/>
<rect x="841" y="1790.8" width="23" height="1.6" fill="#d8e8d8" opacity="0.55"/>
<rect x="841" y="1825.3" width="23" height="1.6" fill="#d8e8d8" opacity="0.55"/>
<rect x="841" y="1859.9" width="23" height="1.6" fill="#d8e8d8" opacity="0.55"/>
<rect x="841" y="1894.5" width="23" height="1.6" fill="#d8e8d8" opacity="0.55"/>
<rect x="841" y="1929.0" width="23" height="1.6" fill="#d8e8d8" opacity="0.55"/>
<rect x="841" y="1963.5" width="23" height="1.6" fill="#d8e8d8" opacity="0.55"/>
<text x="892" y="1456.7" font-size="27" letter-spacing="-0.5">0.0</text>
<text x="892" y="1488.0" font-size="27" letter-spacing="-0.5">0.2</text>
<text x="892" y="1525.1" font-size="27" letter-spacing="-0.5">0.6</text>
<text x="892" y="1558.7" font-size="27" letter-spacing="-0.5">1.0</text>
<text x="892" y="1591.9" font-size="27" letter-spacing="-0.5">1.6</text>
<text x="892" y="1627.4" font-size="27" letter-spacing="-0.5">2.1</text>
<text x="892" y="1663.6" font-size="27" letter-spacing="-0.5">2.6</text>
<text x="892" y="1699.0" font-size="27" letter-spacing="-0.5">3.1</text>
<text x="892" y="1734.3" font-size="27" letter-spacing="-0.5">3.6</text>
<text x="892" y="1769.2" font-size="27" letter-spacing="-0.5">4.0</text>
<text x="892" y="1803.7" font-size="27" letter-spacing="-0.5">4.5</text>
<text x="892" y="1836.7" font-size="27" letter-spacing="-0.5">5.0</text>
<text x="892" y="1871.2" font-size="27" letter-spacing="-0.5">5.5</text>
<text x="892" y="1906.2" font-size="27" letter-spacing="-0.5">6.0</text>
<text x="892" y="1937.7" font-size="27" letter-spacing="-0.5">6.5</text>
<text x="892" y="1969.7" font-size="27" letter-spacing="-0.5">7.0</text>
<text x="892" y="2004.9" font-size="27" letter-spacing="-0.5">7.4</text>
<rect x="1880" y="1445.5" width="22.5" height="34.8" fill="#ff8000"/>
<rect x="1880" y="1480.0" width="22.5" height="34.8" fill="#ffa519"/>
<rect x="1880" y="1514.4" width="22.5" height="34.8" fill="#ffd414"/>
<rect x="1880" y="1548.9" width="22.5" height="34.8" fill="#f0ff14"/>
<rect x="1880" y="1583.4" width="22.5" height="34.8" fill="#b4ff00"/>
<rect x="1880" y="1617.8" width="22.5" height="34.8" fill="#7df500"/>
<rect x="1880" y="1652.3" width="22.5" height="34.8" fill="#50f000"/>
<rect x="1880" y="1686.8" width="22.5" height="34.8" fill="#28f00a"/>
<rect x="1880" y="1721.3" width="22.5" height="34.8" fill="#00fa14"/>
<rect x="1880" y="1755.7" width="22.5" height="34.8" fill="#00f53c"/>
<rect x="1880" y="1790.2" width="22.5" height="34.8" fill="#00f573"/>
<rect x="1880" y="1824.7" width="22.5" height="34.8" fill="#00f5aa"/>
<rect x="1880" y="1859.1" width="22.5" height="34.8" fill="#00f5dc"/>
<rect x="1880" y="1893.6" width="22.5" height="34.8" fill="#00e6ff"/>
<rect x="1880" y="1928.1" width="22.5" height="34.8" fill="#00b4ff"/>
<rect x="1880" y="1962.5" width="22.5" height="34.8" fill="#0082ff"/>
<rect x="1880" y="1997.0" width="22.5" height="34.8" fill="#0a41ff"/>
<rect x="1880" y="1479.2" width="22.5" height="1.6" fill="#d8e8d8" opacity="0.55"/>
<rect x="1880" y="1513.6" width="22.5" height="1.6" fill="#d8e8d8" opacity="0.55"/>
<rect x="1880" y="1548.1" width="22.5" height="1.6" fill="#d8e8d8" opacity="0.55"/>
<rect x="1880" y="1582.6" width="22.5" height="1.6" fill="#d8e8d8" opacity="0.55"/>
<rect x="1880" y="1617.0" width="22.5" height="1.6" fill="#d8e8d8" opacity="0.55"/>
<rect x="1880" y="1651.5" width="22.5" height="1.6" fill="#d8e8d8" opacity="0.55"/>
<rect x="1880" y="1686.0" width="22.5" height="1.6" fill="#d8e8d8" opacity="0.55"/>
<rect x="1880" y="1720.5" width="22.5" height="1.6" fill="#d8e8d8" opacity="0.55"/>
<rect x="1880" y="1754.9" width="22.5" height="1.6" fill="#d8e8d8" opacity="0.55"/>
<rect x="1880" y="1789.4" width="22.5" height="1.6" fill="#d8e8d8" opacity="0.55"/>
<rect x="1880" y="1823.9" width="22.5" height="1.6" fill="#d8e8d8" opacity="0.55"/>
<rect x="1880" y="1858.3" width="22.5" height="1.6" fill="#d8e8d8" opacity="0.55"/>
<rect x="1880" y="1892.8" width="22.5" height="1.6" fill="#d8e8d8" opacity="0.55"/>
<rect x="1880" y="1927.3" width="22.5" height="1.6" fill="#d8e8d8" opacity="0.55"/>
<rect x="1880" y="1961.8" width="22.5" height="1.6" fill="#d8e8d8" opacity="0.55"/>
<rect x="1880" y="1996.2" width="22.5" height="1.6" fill="#d8e8d8" opacity="0.55"/>
<text x="1964" y="1452.7" font-size="27" letter-spacing="-0.5" text-anchor="end">-1.4</text>
<text x="1964" y="1485.2" font-size="27" letter-spacing="-0.5" text-anchor="end">-1.1</text>
<text x="1964" y="1516.7" font-size="27" letter-spacing="-0.5" text-anchor="end">-0.8</text>
<text x="1964" y="1553.7" font-size="27" letter-spacing="-0.5" text-anchor="end">-0.5</text>
<text x="1964" y="1588.7" font-size="27" letter-spacing="-0.5" text-anchor="end">-0.1</text>
<text x="1964" y="1622.7" font-size="27" letter-spacing="-0.5" text-anchor="end">0.2</text>
<text x="1964" y="1659.2" font-size="27" letter-spacing="-0.5" text-anchor="end">0.5</text>
<text x="1964" y="1696.7" font-size="27" letter-spacing="-0.5" text-anchor="end">0.9</text>
<text x="1964" y="1732.7" font-size="27" letter-spacing="-0.5" text-anchor="end">1.2</text>
<text x="1964" y="1767.7" font-size="27" letter-spacing="-0.5" text-anchor="end">1.5</text>
<text x="1964" y="1799.2" font-size="27" letter-spacing="-0.5" text-anchor="end">1.9</text>
<text x="1964" y="1834.2" font-size="27" letter-spacing="-0.5" text-anchor="end">2.2</text>
<text x="1964" y="1869.2" font-size="27" letter-spacing="-0.5" text-anchor="end">2.5</text>
<text x="1964" y="1905.2" font-size="27" letter-spacing="-0.5" text-anchor="end">2.8</text>
<text x="1964" y="1937.7" font-size="27" letter-spacing="-0.5" text-anchor="end">3.2</text>
<text x="1964" y="1971.7" font-size="27" letter-spacing="-0.5" text-anchor="end">3.5</text>
<text x="1964" y="2007.7" font-size="27" letter-spacing="-0.5" text-anchor="end">3.8</text>
<text x="1964" y="2041.7" font-size="27" letter-spacing="-0.5" text-anchor="end">4.2</text>
</svg>
</body></html>
